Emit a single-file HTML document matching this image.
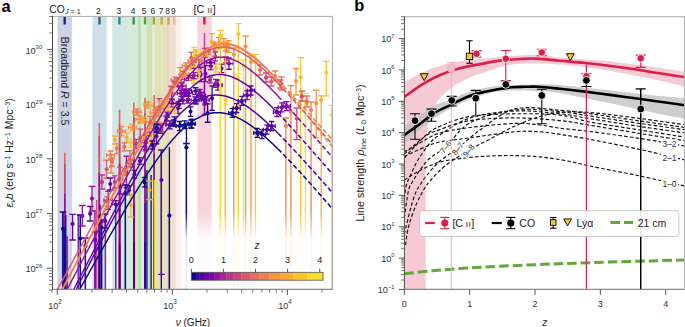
<!DOCTYPE html><html><head><meta charset="utf-8"><style>html,body{margin:0;padding:0;background:#fff;}svg{display:block;font-family:"Liberation Sans",sans-serif;}</style></head><body><svg width="685" height="327" viewBox="0 0 685 327" font-family="Liberation Sans, sans-serif"><defs><clipPath id="clipA"><rect x="52.5" y="16.4" width="280.1" height="273.0"/></clipPath><clipPath id="clipB"><rect x="404.4" y="16.7" width="280.0" height="272.7"/></clipPath></defs><rect width="685" height="327" fill="#fff"/><g clip-path="url(#clipA)">
<rect x="57.5" y="16.4" width="14.4" height="273" fill="#1b2a7e" fill-opacity="0.21"/>
<rect x="92.3" y="16.4" width="14.4" height="273" fill="#2a6a8c" fill-opacity="0.21"/>
<rect x="112.2" y="16.4" width="14.4" height="273" fill="#2f8a80" fill-opacity="0.21"/>
<rect x="126.5" y="16.4" width="14.4" height="273" fill="#3a9a55" fill-opacity="0.21"/>
<rect x="137.8" y="16.4" width="14.4" height="273" fill="#55a843" fill-opacity="0.21"/>
<rect x="146.6" y="16.4" width="14.4" height="273" fill="#8db33c" fill-opacity="0.21"/>
<rect x="154.5" y="16.4" width="14.4" height="273" fill="#b7b64c" fill-opacity="0.21"/>
<rect x="161.3" y="16.4" width="14.4" height="273" fill="#c9a262" fill-opacity="0.21"/>
<rect x="167" y="16.4" width="14.4" height="273" fill="#e3b4a4" fill-opacity="0.21"/>
<rect x="197.3" y="16.4" width="14.4" height="273" fill="#e8738f" fill-opacity="0.3"/>
<line x1="64.7" y1="17" x2="64.7" y2="24.6" stroke="#1b2a7e" stroke-width="2.4" />
<line x1="99.5" y1="17" x2="99.5" y2="24.6" stroke="#2a6a8c" stroke-width="2.4" />
<line x1="119.4" y1="17" x2="119.4" y2="24.6" stroke="#2f8a80" stroke-width="2.4" />
<line x1="133.7" y1="17" x2="133.7" y2="24.6" stroke="#3a9a55" stroke-width="2.4" />
<line x1="145" y1="17" x2="145" y2="24.6" stroke="#55a843" stroke-width="2.4" />
<line x1="153.8" y1="17" x2="153.8" y2="24.6" stroke="#8db33c" stroke-width="2.4" />
<line x1="161.7" y1="17" x2="161.7" y2="24.6" stroke="#b7b64c" stroke-width="2.4" />
<line x1="168.5" y1="17" x2="168.5" y2="24.6" stroke="#c9a262" stroke-width="2.4" />
<line x1="174.2" y1="17" x2="174.2" y2="24.6" stroke="#e3b4a4" stroke-width="2.4" />
<line x1="204.4" y1="17" x2="204.4" y2="24.6" stroke="#e0103a" stroke-width="2.4" />
<line x1="64.8" y1="152.8" x2="64.8" y2="289.4" stroke="#e6645f" stroke-width="1.6" />
<line x1="64.8" y1="163.73" x2="64.8" y2="289.4" stroke="#cc4778" stroke-width="1.6" />
<line x1="64.8" y1="193.78" x2="64.8" y2="289.4" stroke="#9511a1" stroke-width="1.6" />
<line x1="64.8" y1="227.93" x2="64.8" y2="289.4" stroke="#6600a7" stroke-width="1.6" />
<line x1="64.8" y1="255.25" x2="64.8" y2="289.4" stroke="#310597" stroke-width="1.6" />
<line x1="99.3" y1="123" x2="99.3" y2="289.4" stroke="#e6645f" stroke-width="1.6" />
<line x1="99.3" y1="136.31" x2="99.3" y2="289.4" stroke="#cc4778" stroke-width="1.6" />
<line x1="99.3" y1="172.92" x2="99.3" y2="289.4" stroke="#9511a1" stroke-width="1.6" />
<line x1="99.3" y1="214.52" x2="99.3" y2="289.4" stroke="#6600a7" stroke-width="1.6" />
<line x1="99.3" y1="247.8" x2="99.3" y2="289.4" stroke="#310597" stroke-width="1.6" />
<line x1="119.6" y1="109.8" x2="119.6" y2="289.4" stroke="#e6645f" stroke-width="1.6" />
<line x1="119.6" y1="124.17" x2="119.6" y2="289.4" stroke="#cc4778" stroke-width="1.6" />
<line x1="119.6" y1="163.68" x2="119.6" y2="289.4" stroke="#9511a1" stroke-width="1.6" />
<line x1="119.6" y1="208.58" x2="119.6" y2="289.4" stroke="#6600a7" stroke-width="1.6" />
<line x1="119.6" y1="244.5" x2="119.6" y2="289.4" stroke="#310597" stroke-width="1.6" />
<line x1="133.9" y1="102.5" x2="133.9" y2="289.4" stroke="#e6645f" stroke-width="1.6" />
<line x1="133.9" y1="117.45" x2="133.9" y2="289.4" stroke="#cc4778" stroke-width="1.6" />
<line x1="133.9" y1="158.57" x2="133.9" y2="289.4" stroke="#9511a1" stroke-width="1.6" />
<line x1="133.9" y1="205.3" x2="133.9" y2="289.4" stroke="#6600a7" stroke-width="1.6" />
<line x1="133.9" y1="242.67" x2="133.9" y2="289.4" stroke="#310597" stroke-width="1.6" />
<line x1="145" y1="97.7" x2="145" y2="289.4" stroke="#e6645f" stroke-width="1.6" />
<line x1="145" y1="113.04" x2="145" y2="289.4" stroke="#cc4778" stroke-width="1.6" />
<line x1="145" y1="155.21" x2="145" y2="289.4" stroke="#9511a1" stroke-width="1.6" />
<line x1="145" y1="203.13" x2="145" y2="289.4" stroke="#6600a7" stroke-width="1.6" />
<line x1="145" y1="241.47" x2="145" y2="289.4" stroke="#310597" stroke-width="1.6" />
<line x1="154.1" y1="95.1" x2="154.1" y2="289.4" stroke="#e6645f" stroke-width="1.6" />
<line x1="154.1" y1="110.64" x2="154.1" y2="289.4" stroke="#cc4778" stroke-width="1.6" />
<line x1="154.1" y1="153.39" x2="154.1" y2="289.4" stroke="#9511a1" stroke-width="1.6" />
<line x1="154.1" y1="201.96" x2="154.1" y2="289.4" stroke="#6600a7" stroke-width="1.6" />
<line x1="154.1" y1="240.82" x2="154.1" y2="289.4" stroke="#310597" stroke-width="1.6" />
<line x1="204.5" y1="33" x2="204.5" y2="114.3" stroke="#bc3587" stroke-width="1.3" />
<line x1="204.5" y1="55" x2="204.5" y2="114.3" stroke="#7e03a8" stroke-width="1.3" />
<line x1="201.5" y1="114.3" x2="207.5" y2="114.3" stroke="#7e03a8" stroke-width="1.1" />
<line x1="144.53" y1="177.46" x2="144.53" y2="186.9" stroke="#0d0887" stroke-width="1.3" />
<line x1="141.73" y1="177.46" x2="147.33" y2="177.46" stroke="#0d0887" stroke-width="1.3" />
<line x1="141.73" y1="186.9" x2="147.33" y2="186.9" stroke="#0d0887" stroke-width="1.3" />
<circle cx="144.53" cy="182.18" r="2" fill="#0d0887" />
<line x1="184.81" y1="120.79" x2="184.81" y2="128.49" stroke="#0d0887" stroke-width="1.3" />
<line x1="182.01" y1="120.79" x2="187.61" y2="120.79" stroke="#0d0887" stroke-width="1.3" />
<line x1="182.01" y1="128.49" x2="187.61" y2="128.49" stroke="#0d0887" stroke-width="1.3" />
<line x1="180.61" y1="124.64" x2="189.01" y2="124.64" stroke="#0d0887" stroke-width="1.3" />
<line x1="180.61" y1="122.64" x2="180.61" y2="126.64" stroke="#0d0887" stroke-width="1.3" />
<line x1="189.01" y1="122.64" x2="189.01" y2="126.64" stroke="#0d0887" stroke-width="1.3" />
<circle cx="184.81" cy="124.64" r="2" fill="#0d0887" />
<line x1="207.61" y1="103.83" x2="207.61" y2="122.27" stroke="#0d0887" stroke-width="1.3" />
<line x1="204.81" y1="103.83" x2="210.41" y2="103.83" stroke="#0d0887" stroke-width="1.3" />
<line x1="204.81" y1="122.27" x2="210.41" y2="122.27" stroke="#0d0887" stroke-width="1.3" />
<circle cx="207.61" cy="113.05" r="2" fill="#0d0887" />
<line x1="129.03" y1="185.76" x2="129.03" y2="194.85" stroke="#310597" stroke-width="1.3" />
<line x1="126.23" y1="185.76" x2="131.83" y2="185.76" stroke="#310597" stroke-width="1.3" />
<line x1="126.23" y1="194.85" x2="131.83" y2="194.85" stroke="#310597" stroke-width="1.3" />
<circle cx="129.03" cy="190.3" r="2" fill="#310597" />
<line x1="173.74" y1="119.93" x2="173.74" y2="126.34" stroke="#310597" stroke-width="1.3" />
<line x1="170.94" y1="119.93" x2="176.54" y2="119.93" stroke="#310597" stroke-width="1.3" />
<line x1="170.94" y1="126.34" x2="176.54" y2="126.34" stroke="#310597" stroke-width="1.3" />
<circle cx="173.74" cy="123.14" r="2" fill="#310597" />
<line x1="190.56" y1="106.86" x2="190.56" y2="116.38" stroke="#310597" stroke-width="1.3" />
<line x1="187.76" y1="106.86" x2="193.36" y2="106.86" stroke="#310597" stroke-width="1.3" />
<line x1="187.76" y1="116.38" x2="193.36" y2="116.38" stroke="#310597" stroke-width="1.3" />
<circle cx="190.56" cy="111.62" r="2" fill="#310597" />
<line x1="212.09" y1="85.92" x2="212.09" y2="110.34" stroke="#310597" stroke-width="1.3" />
<line x1="209.29" y1="85.92" x2="214.89" y2="85.92" stroke="#310597" stroke-width="1.3" />
<line x1="209.29" y1="110.34" x2="214.89" y2="110.34" stroke="#310597" stroke-width="1.3" />
<circle cx="212.09" cy="98.13" r="2" fill="#310597" />
<line x1="134.41" y1="170.35" x2="134.41" y2="178.08" stroke="#4c02a1" stroke-width="1.3" />
<line x1="131.61" y1="170.35" x2="137.21" y2="170.35" stroke="#4c02a1" stroke-width="1.3" />
<line x1="131.61" y1="178.08" x2="137.21" y2="178.08" stroke="#4c02a1" stroke-width="1.3" />
<circle cx="134.41" cy="174.22" r="2" fill="#4c02a1" />
<line x1="156.47" y1="128.86" x2="156.47" y2="143.73" stroke="#4c02a1" stroke-width="1.3" />
<line x1="153.67" y1="128.86" x2="159.27" y2="128.86" stroke="#4c02a1" stroke-width="1.3" />
<line x1="153.67" y1="143.73" x2="159.27" y2="143.73" stroke="#4c02a1" stroke-width="1.3" />
<circle cx="156.47" cy="136.3" r="2" fill="#4c02a1" />
<line x1="177.99" y1="103.31" x2="177.99" y2="113.4" stroke="#4c02a1" stroke-width="1.3" />
<line x1="175.19" y1="103.31" x2="180.79" y2="103.31" stroke="#4c02a1" stroke-width="1.3" />
<line x1="175.19" y1="113.4" x2="180.79" y2="113.4" stroke="#4c02a1" stroke-width="1.3" />
<circle cx="177.99" cy="108.35" r="2" fill="#4c02a1" />
<line x1="195.63" y1="87.74" x2="195.63" y2="94.36" stroke="#4c02a1" stroke-width="1.3" />
<line x1="192.83" y1="87.74" x2="198.43" y2="87.74" stroke="#4c02a1" stroke-width="1.3" />
<line x1="192.83" y1="94.36" x2="198.43" y2="94.36" stroke="#4c02a1" stroke-width="1.3" />
<line x1="191.43" y1="91.05" x2="199.83" y2="91.05" stroke="#4c02a1" stroke-width="1.3" />
<line x1="191.43" y1="89.05" x2="191.43" y2="93.05" stroke="#4c02a1" stroke-width="1.3" />
<line x1="199.83" y1="89.05" x2="199.83" y2="93.05" stroke="#4c02a1" stroke-width="1.3" />
<circle cx="195.63" cy="91.05" r="2" fill="#4c02a1" />
<line x1="217.99" y1="80.01" x2="217.99" y2="90.15" stroke="#4c02a1" stroke-width="1.3" />
<line x1="215.19" y1="80.01" x2="220.79" y2="80.01" stroke="#4c02a1" stroke-width="1.3" />
<line x1="215.19" y1="90.15" x2="220.79" y2="90.15" stroke="#4c02a1" stroke-width="1.3" />
<line x1="213.79" y1="85.08" x2="222.19" y2="85.08" stroke="#4c02a1" stroke-width="1.3" />
<line x1="213.79" y1="83.08" x2="213.79" y2="87.08" stroke="#4c02a1" stroke-width="1.3" />
<line x1="222.19" y1="83.08" x2="222.19" y2="87.08" stroke="#4c02a1" stroke-width="1.3" />
<circle cx="217.99" cy="85.08" r="2" fill="#4c02a1" />
<line x1="115.73" y1="200.69" x2="115.73" y2="294.4" stroke="#6600a7" stroke-width="1.3" />
<line x1="112.93" y1="200.69" x2="118.53" y2="200.69" stroke="#6600a7" stroke-width="1.3" />
<line x1="111.53" y1="204.4" x2="119.93" y2="204.4" stroke="#6600a7" stroke-width="1.3" />
<line x1="111.53" y1="202.4" x2="111.53" y2="206.4" stroke="#6600a7" stroke-width="1.3" />
<line x1="119.93" y1="202.4" x2="119.93" y2="206.4" stroke="#6600a7" stroke-width="1.3" />
<circle cx="115.73" cy="204.4" r="2" fill="#6600a7" />
<line x1="139.86" y1="157.7" x2="139.86" y2="164.05" stroke="#6600a7" stroke-width="1.3" />
<line x1="137.06" y1="157.7" x2="142.66" y2="157.7" stroke="#6600a7" stroke-width="1.3" />
<line x1="137.06" y1="164.05" x2="142.66" y2="164.05" stroke="#6600a7" stroke-width="1.3" />
<circle cx="139.86" cy="160.88" r="2" fill="#6600a7" />
<line x1="184.43" y1="89.32" x2="184.43" y2="96.18" stroke="#6600a7" stroke-width="1.3" />
<line x1="181.63" y1="89.32" x2="187.23" y2="89.32" stroke="#6600a7" stroke-width="1.3" />
<line x1="181.63" y1="96.18" x2="187.23" y2="96.18" stroke="#6600a7" stroke-width="1.3" />
<line x1="180.23" y1="92.75" x2="188.63" y2="92.75" stroke="#6600a7" stroke-width="1.3" />
<line x1="180.23" y1="90.75" x2="180.23" y2="94.75" stroke="#6600a7" stroke-width="1.3" />
<line x1="188.63" y1="90.75" x2="188.63" y2="94.75" stroke="#6600a7" stroke-width="1.3" />
<circle cx="184.43" cy="92.75" r="2" fill="#6600a7" />
<line x1="200.76" y1="67.46" x2="200.76" y2="81.65" stroke="#6600a7" stroke-width="1.3" />
<line x1="197.96" y1="67.46" x2="203.56" y2="67.46" stroke="#6600a7" stroke-width="1.3" />
<line x1="197.96" y1="81.65" x2="203.56" y2="81.65" stroke="#6600a7" stroke-width="1.3" />
<circle cx="200.76" cy="74.56" r="2" fill="#6600a7" />
<line x1="221.52" y1="64.18" x2="221.52" y2="72.57" stroke="#6600a7" stroke-width="1.3" />
<line x1="218.72" y1="64.18" x2="224.32" y2="64.18" stroke="#6600a7" stroke-width="1.3" />
<line x1="218.72" y1="72.57" x2="224.32" y2="72.57" stroke="#6600a7" stroke-width="1.3" />
<circle cx="221.52" cy="68.38" r="2" fill="#6600a7" />
<line x1="120.64" y1="179.44" x2="120.64" y2="194" stroke="#7e03a8" stroke-width="1.3" />
<line x1="117.84" y1="179.44" x2="123.44" y2="179.44" stroke="#7e03a8" stroke-width="1.3" />
<line x1="117.84" y1="194" x2="123.44" y2="194" stroke="#7e03a8" stroke-width="1.3" />
<circle cx="120.64" cy="186.72" r="2" fill="#7e03a8" />
<line x1="146.03" y1="135.6" x2="146.03" y2="149.61" stroke="#7e03a8" stroke-width="1.3" />
<line x1="143.23" y1="135.6" x2="148.83" y2="135.6" stroke="#7e03a8" stroke-width="1.3" />
<line x1="143.23" y1="149.61" x2="148.83" y2="149.61" stroke="#7e03a8" stroke-width="1.3" />
<circle cx="146.03" cy="142.61" r="2" fill="#7e03a8" />
<line x1="167.14" y1="112.15" x2="167.14" y2="117.38" stroke="#7e03a8" stroke-width="1.3" />
<line x1="164.34" y1="112.15" x2="169.94" y2="112.15" stroke="#7e03a8" stroke-width="1.3" />
<line x1="164.34" y1="117.38" x2="169.94" y2="117.38" stroke="#7e03a8" stroke-width="1.3" />
<circle cx="167.14" cy="114.76" r="2" fill="#7e03a8" />
<line x1="188.82" y1="75.11" x2="188.82" y2="80.32" stroke="#7e03a8" stroke-width="1.3" />
<line x1="186.02" y1="75.11" x2="191.62" y2="75.11" stroke="#7e03a8" stroke-width="1.3" />
<line x1="186.02" y1="80.32" x2="191.62" y2="80.32" stroke="#7e03a8" stroke-width="1.3" />
<line x1="184.62" y1="77.72" x2="193.02" y2="77.72" stroke="#7e03a8" stroke-width="1.3" />
<line x1="184.62" y1="75.72" x2="184.62" y2="79.72" stroke="#7e03a8" stroke-width="1.3" />
<line x1="193.02" y1="75.72" x2="193.02" y2="79.72" stroke="#7e03a8" stroke-width="1.3" />
<circle cx="188.82" cy="77.72" r="2" fill="#7e03a8" />
<line x1="205.53" y1="65.58" x2="205.53" y2="81.69" stroke="#7e03a8" stroke-width="1.3" />
<line x1="202.73" y1="65.58" x2="208.33" y2="65.58" stroke="#7e03a8" stroke-width="1.3" />
<line x1="202.73" y1="81.69" x2="208.33" y2="81.69" stroke="#7e03a8" stroke-width="1.3" />
<circle cx="205.53" cy="73.64" r="2" fill="#7e03a8" />
<line x1="228.96" y1="57.95" x2="228.96" y2="69.25" stroke="#7e03a8" stroke-width="1.3" />
<line x1="226.16" y1="57.95" x2="231.76" y2="57.95" stroke="#7e03a8" stroke-width="1.3" />
<line x1="226.16" y1="69.25" x2="231.76" y2="69.25" stroke="#7e03a8" stroke-width="1.3" />
<line x1="224.76" y1="63.6" x2="233.16" y2="63.6" stroke="#7e03a8" stroke-width="1.3" />
<line x1="224.76" y1="61.6" x2="224.76" y2="65.6" stroke="#7e03a8" stroke-width="1.3" />
<line x1="233.16" y1="61.6" x2="233.16" y2="65.6" stroke="#7e03a8" stroke-width="1.3" />
<circle cx="228.96" cy="63.6" r="2" fill="#7e03a8" />
<line x1="126.41" y1="156.25" x2="126.41" y2="187.6" stroke="#9511a1" stroke-width="1.3" />
<line x1="123.61" y1="156.25" x2="129.21" y2="156.25" stroke="#9511a1" stroke-width="1.3" />
<line x1="123.61" y1="187.6" x2="129.21" y2="187.6" stroke="#9511a1" stroke-width="1.3" />
<circle cx="126.41" cy="171.93" r="2" fill="#9511a1" />
<line x1="149.55" y1="132.16" x2="149.55" y2="139.16" stroke="#9511a1" stroke-width="1.3" />
<line x1="146.75" y1="132.16" x2="152.35" y2="132.16" stroke="#9511a1" stroke-width="1.3" />
<line x1="146.75" y1="139.16" x2="152.35" y2="139.16" stroke="#9511a1" stroke-width="1.3" />
<circle cx="149.55" cy="135.66" r="2" fill="#9511a1" />
<line x1="171.61" y1="86.54" x2="171.61" y2="98.97" stroke="#9511a1" stroke-width="1.3" />
<line x1="168.81" y1="86.54" x2="174.41" y2="86.54" stroke="#9511a1" stroke-width="1.3" />
<line x1="168.81" y1="98.97" x2="174.41" y2="98.97" stroke="#9511a1" stroke-width="1.3" />
<circle cx="171.61" cy="92.76" r="2" fill="#9511a1" />
<line x1="193.43" y1="62.7" x2="193.43" y2="68.27" stroke="#9511a1" stroke-width="1.3" />
<line x1="190.63" y1="62.7" x2="196.23" y2="62.7" stroke="#9511a1" stroke-width="1.3" />
<line x1="190.63" y1="68.27" x2="196.23" y2="68.27" stroke="#9511a1" stroke-width="1.3" />
<circle cx="193.43" cy="65.49" r="2" fill="#9511a1" />
<line x1="210.85" y1="62.72" x2="210.85" y2="69.66" stroke="#9511a1" stroke-width="1.3" />
<line x1="208.05" y1="62.72" x2="213.65" y2="62.72" stroke="#9511a1" stroke-width="1.3" />
<line x1="208.05" y1="69.66" x2="213.65" y2="69.66" stroke="#9511a1" stroke-width="1.3" />
<circle cx="210.85" cy="66.19" r="2" fill="#9511a1" />
<line x1="108.14" y1="191.23" x2="108.14" y2="209.55" stroke="#aa2395" stroke-width="1.3" />
<line x1="105.34" y1="191.23" x2="110.94" y2="191.23" stroke="#aa2395" stroke-width="1.3" />
<line x1="105.34" y1="209.55" x2="110.94" y2="209.55" stroke="#aa2395" stroke-width="1.3" />
<line x1="103.94" y1="200.39" x2="112.34" y2="200.39" stroke="#aa2395" stroke-width="1.3" />
<line x1="103.94" y1="198.39" x2="103.94" y2="202.39" stroke="#aa2395" stroke-width="1.3" />
<line x1="112.34" y1="198.39" x2="112.34" y2="202.39" stroke="#aa2395" stroke-width="1.3" />
<circle cx="108.14" cy="200.39" r="2" fill="#aa2395" />
<line x1="130.32" y1="160.23" x2="130.32" y2="167.04" stroke="#aa2395" stroke-width="1.3" />
<line x1="127.52" y1="160.23" x2="133.12" y2="160.23" stroke="#aa2395" stroke-width="1.3" />
<line x1="127.52" y1="167.04" x2="133.12" y2="167.04" stroke="#aa2395" stroke-width="1.3" />
<line x1="126.12" y1="163.64" x2="134.52" y2="163.64" stroke="#aa2395" stroke-width="1.3" />
<line x1="126.12" y1="161.64" x2="126.12" y2="165.64" stroke="#aa2395" stroke-width="1.3" />
<line x1="134.52" y1="161.64" x2="134.52" y2="165.64" stroke="#aa2395" stroke-width="1.3" />
<circle cx="130.32" cy="163.64" r="2" fill="#aa2395" />
<line x1="154.51" y1="122.12" x2="154.51" y2="129.9" stroke="#aa2395" stroke-width="1.3" />
<line x1="151.71" y1="122.12" x2="157.31" y2="122.12" stroke="#aa2395" stroke-width="1.3" />
<line x1="151.71" y1="129.9" x2="157.31" y2="129.9" stroke="#aa2395" stroke-width="1.3" />
<circle cx="154.51" cy="126.01" r="2" fill="#aa2395" />
<line x1="177.08" y1="77.65" x2="177.08" y2="86.62" stroke="#aa2395" stroke-width="1.3" />
<line x1="174.28" y1="77.65" x2="179.88" y2="77.65" stroke="#aa2395" stroke-width="1.3" />
<line x1="174.28" y1="86.62" x2="179.88" y2="86.62" stroke="#aa2395" stroke-width="1.3" />
<line x1="172.88" y1="82.13" x2="181.28" y2="82.13" stroke="#aa2395" stroke-width="1.3" />
<line x1="172.88" y1="80.13" x2="172.88" y2="84.13" stroke="#aa2395" stroke-width="1.3" />
<line x1="181.28" y1="80.13" x2="181.28" y2="84.13" stroke="#aa2395" stroke-width="1.3" />
<circle cx="177.08" cy="82.13" r="2" fill="#aa2395" />
<line x1="199.08" y1="59.48" x2="199.08" y2="72.3" stroke="#aa2395" stroke-width="1.3" />
<line x1="196.28" y1="59.48" x2="201.88" y2="59.48" stroke="#aa2395" stroke-width="1.3" />
<line x1="196.28" y1="72.3" x2="201.88" y2="72.3" stroke="#aa2395" stroke-width="1.3" />
<circle cx="199.08" cy="65.89" r="2" fill="#aa2395" />
<line x1="215.34" y1="52.02" x2="215.34" y2="60.87" stroke="#aa2395" stroke-width="1.3" />
<line x1="212.54" y1="52.02" x2="218.14" y2="52.02" stroke="#aa2395" stroke-width="1.3" />
<line x1="212.54" y1="60.87" x2="218.14" y2="60.87" stroke="#aa2395" stroke-width="1.3" />
<circle cx="215.34" cy="56.45" r="2" fill="#aa2395" />
<line x1="114.72" y1="175.78" x2="114.72" y2="188.38" stroke="#bc3587" stroke-width="1.3" />
<line x1="111.92" y1="175.78" x2="117.52" y2="175.78" stroke="#bc3587" stroke-width="1.3" />
<line x1="111.92" y1="188.38" x2="117.52" y2="188.38" stroke="#bc3587" stroke-width="1.3" />
<circle cx="114.72" cy="182.08" r="2" fill="#bc3587" />
<line x1="136.08" y1="139.32" x2="136.08" y2="148.29" stroke="#bc3587" stroke-width="1.3" />
<line x1="133.28" y1="139.32" x2="138.88" y2="139.32" stroke="#bc3587" stroke-width="1.3" />
<line x1="133.28" y1="148.29" x2="138.88" y2="148.29" stroke="#bc3587" stroke-width="1.3" />
<circle cx="136.08" cy="143.8" r="2" fill="#bc3587" />
<line x1="159.45" y1="98.62" x2="159.45" y2="115.74" stroke="#bc3587" stroke-width="1.3" />
<line x1="156.65" y1="98.62" x2="162.25" y2="98.62" stroke="#bc3587" stroke-width="1.3" />
<line x1="156.65" y1="115.74" x2="162.25" y2="115.74" stroke="#bc3587" stroke-width="1.3" />
<circle cx="159.45" cy="107.18" r="2" fill="#bc3587" />
<line x1="182.78" y1="71.5" x2="182.78" y2="79.31" stroke="#bc3587" stroke-width="1.3" />
<line x1="179.98" y1="71.5" x2="185.58" y2="71.5" stroke="#bc3587" stroke-width="1.3" />
<line x1="179.98" y1="79.31" x2="185.58" y2="79.31" stroke="#bc3587" stroke-width="1.3" />
<circle cx="182.78" cy="75.41" r="2" fill="#bc3587" />
<line x1="204.71" y1="48.34" x2="204.71" y2="57.47" stroke="#bc3587" stroke-width="1.3" />
<line x1="201.91" y1="48.34" x2="207.51" y2="48.34" stroke="#bc3587" stroke-width="1.3" />
<line x1="201.91" y1="57.47" x2="207.51" y2="57.47" stroke="#bc3587" stroke-width="1.3" />
<circle cx="204.71" cy="52.91" r="2" fill="#bc3587" />
<line x1="119.89" y1="167.09" x2="119.89" y2="180.7" stroke="#cc4778" stroke-width="1.3" />
<line x1="117.09" y1="167.09" x2="122.69" y2="167.09" stroke="#cc4778" stroke-width="1.3" />
<line x1="117.09" y1="180.7" x2="122.69" y2="180.7" stroke="#cc4778" stroke-width="1.3" />
<circle cx="119.89" cy="173.89" r="2" fill="#cc4778" />
<line x1="140.41" y1="129.19" x2="140.41" y2="146.55" stroke="#cc4778" stroke-width="1.3" />
<line x1="137.61" y1="129.19" x2="143.21" y2="129.19" stroke="#cc4778" stroke-width="1.3" />
<line x1="137.61" y1="146.55" x2="143.21" y2="146.55" stroke="#cc4778" stroke-width="1.3" />
<circle cx="140.41" cy="137.87" r="2" fill="#cc4778" />
<line x1="208.63" y1="48.2" x2="208.63" y2="54.08" stroke="#cc4778" stroke-width="1.3" />
<line x1="205.83" y1="48.2" x2="211.43" y2="48.2" stroke="#cc4778" stroke-width="1.3" />
<line x1="205.83" y1="54.08" x2="211.43" y2="54.08" stroke="#cc4778" stroke-width="1.3" />
<circle cx="208.63" cy="51.14" r="2" fill="#cc4778" />
<line x1="225.98" y1="45" x2="225.98" y2="51.15" stroke="#cc4778" stroke-width="1.3" />
<line x1="223.18" y1="45" x2="228.78" y2="45" stroke="#cc4778" stroke-width="1.3" />
<line x1="223.18" y1="51.15" x2="228.78" y2="51.15" stroke="#cc4778" stroke-width="1.3" />
<circle cx="225.98" cy="48.08" r="2" fill="#cc4778" />
<line x1="107.13" y1="196.81" x2="107.13" y2="206.05" stroke="#da5a6a" stroke-width="1.3" />
<line x1="104.33" y1="196.81" x2="109.93" y2="196.81" stroke="#da5a6a" stroke-width="1.3" />
<line x1="104.33" y1="206.05" x2="109.93" y2="206.05" stroke="#da5a6a" stroke-width="1.3" />
<circle cx="107.13" cy="201.43" r="2" fill="#da5a6a" />
<line x1="125.1" y1="168.75" x2="125.1" y2="174.75" stroke="#da5a6a" stroke-width="1.3" />
<line x1="122.3" y1="168.75" x2="127.9" y2="168.75" stroke="#da5a6a" stroke-width="1.3" />
<line x1="122.3" y1="174.75" x2="127.9" y2="174.75" stroke="#da5a6a" stroke-width="1.3" />
<circle cx="125.1" cy="171.75" r="2" fill="#da5a6a" />
<line x1="170.82" y1="86.09" x2="170.82" y2="94.17" stroke="#da5a6a" stroke-width="1.3" />
<line x1="168.02" y1="86.09" x2="173.62" y2="86.09" stroke="#da5a6a" stroke-width="1.3" />
<line x1="168.02" y1="94.17" x2="173.62" y2="94.17" stroke="#da5a6a" stroke-width="1.3" />
<circle cx="170.82" cy="90.13" r="2" fill="#da5a6a" />
<line x1="191.27" y1="52.4" x2="191.27" y2="63.12" stroke="#da5a6a" stroke-width="1.3" />
<line x1="188.47" y1="52.4" x2="194.07" y2="52.4" stroke="#da5a6a" stroke-width="1.3" />
<line x1="188.47" y1="63.12" x2="194.07" y2="63.12" stroke="#da5a6a" stroke-width="1.3" />
<circle cx="191.27" cy="57.76" r="2" fill="#da5a6a" />
<line x1="214.37" y1="43.48" x2="214.37" y2="56.11" stroke="#da5a6a" stroke-width="1.3" />
<line x1="211.57" y1="43.48" x2="217.17" y2="43.48" stroke="#da5a6a" stroke-width="1.3" />
<line x1="211.57" y1="56.11" x2="217.17" y2="56.11" stroke="#da5a6a" stroke-width="1.3" />
<circle cx="214.37" cy="49.8" r="2" fill="#da5a6a" />
<line x1="129.93" y1="150.55" x2="129.93" y2="167.37" stroke="#e66c5c" stroke-width="1.3" />
<line x1="127.13" y1="150.55" x2="132.73" y2="150.55" stroke="#e66c5c" stroke-width="1.3" />
<line x1="127.13" y1="167.37" x2="132.73" y2="167.37" stroke="#e66c5c" stroke-width="1.3" />
<circle cx="129.93" cy="158.96" r="2" fill="#e66c5c" />
<line x1="150.15" y1="116.41" x2="150.15" y2="128.38" stroke="#e66c5c" stroke-width="1.3" />
<line x1="147.35" y1="116.41" x2="152.95" y2="116.41" stroke="#e66c5c" stroke-width="1.3" />
<line x1="147.35" y1="128.38" x2="152.95" y2="128.38" stroke="#e66c5c" stroke-width="1.3" />
<line x1="145.95" y1="122.39" x2="154.35" y2="122.39" stroke="#e66c5c" stroke-width="1.3" />
<line x1="145.95" y1="120.39" x2="145.95" y2="124.39" stroke="#e66c5c" stroke-width="1.3" />
<line x1="154.35" y1="120.39" x2="154.35" y2="124.39" stroke="#e66c5c" stroke-width="1.3" />
<circle cx="150.15" cy="122.39" r="2" fill="#e66c5c" />
<line x1="175.29" y1="77.04" x2="175.29" y2="83.11" stroke="#e66c5c" stroke-width="1.3" />
<line x1="172.49" y1="77.04" x2="178.09" y2="77.04" stroke="#e66c5c" stroke-width="1.3" />
<line x1="172.49" y1="83.11" x2="178.09" y2="83.11" stroke="#e66c5c" stroke-width="1.3" />
<line x1="171.09" y1="80.07" x2="179.49" y2="80.07" stroke="#e66c5c" stroke-width="1.3" />
<line x1="171.09" y1="78.07" x2="171.09" y2="82.07" stroke="#e66c5c" stroke-width="1.3" />
<line x1="179.49" y1="78.07" x2="179.49" y2="82.07" stroke="#e66c5c" stroke-width="1.3" />
<circle cx="175.29" cy="80.07" r="2" fill="#e66c5c" />
<line x1="196.13" y1="49.73" x2="196.13" y2="59.64" stroke="#e66c5c" stroke-width="1.3" />
<line x1="193.33" y1="49.73" x2="198.93" y2="49.73" stroke="#e66c5c" stroke-width="1.3" />
<line x1="193.33" y1="59.64" x2="198.93" y2="59.64" stroke="#e66c5c" stroke-width="1.3" />
<circle cx="196.13" cy="54.68" r="2" fill="#e66c5c" />
<line x1="218.99" y1="37.63" x2="218.99" y2="48.28" stroke="#e66c5c" stroke-width="1.3" />
<line x1="216.19" y1="37.63" x2="221.79" y2="37.63" stroke="#e66c5c" stroke-width="1.3" />
<line x1="216.19" y1="48.28" x2="221.79" y2="48.28" stroke="#e66c5c" stroke-width="1.3" />
<line x1="214.79" y1="42.96" x2="223.19" y2="42.96" stroke="#e66c5c" stroke-width="1.3" />
<line x1="214.79" y1="40.96" x2="214.79" y2="44.96" stroke="#e66c5c" stroke-width="1.3" />
<line x1="223.19" y1="40.96" x2="223.19" y2="44.96" stroke="#e66c5c" stroke-width="1.3" />
<circle cx="218.99" cy="42.96" r="2" fill="#e66c5c" />
<line x1="155.06" y1="106.97" x2="155.06" y2="121.8" stroke="#f0804e" stroke-width="1.3" />
<line x1="152.26" y1="106.97" x2="157.86" y2="106.97" stroke="#f0804e" stroke-width="1.3" />
<line x1="152.26" y1="121.8" x2="157.86" y2="121.8" stroke="#f0804e" stroke-width="1.3" />
<circle cx="155.06" cy="114.38" r="2" fill="#f0804e" />
<line x1="180.07" y1="67.55" x2="180.07" y2="82.04" stroke="#f0804e" stroke-width="1.3" />
<line x1="177.27" y1="67.55" x2="182.87" y2="67.55" stroke="#f0804e" stroke-width="1.3" />
<line x1="177.27" y1="82.04" x2="182.87" y2="82.04" stroke="#f0804e" stroke-width="1.3" />
<circle cx="180.07" cy="74.8" r="2" fill="#f0804e" />
<line x1="201.2" y1="55.43" x2="201.2" y2="65.76" stroke="#f0804e" stroke-width="1.3" />
<line x1="198.4" y1="55.43" x2="204" y2="55.43" stroke="#f0804e" stroke-width="1.3" />
<line x1="198.4" y1="65.76" x2="204" y2="65.76" stroke="#f0804e" stroke-width="1.3" />
<circle cx="201.2" cy="60.6" r="2" fill="#f0804e" />
<line x1="223.88" y1="38.66" x2="223.88" y2="46.83" stroke="#f0804e" stroke-width="1.3" />
<line x1="221.08" y1="38.66" x2="226.68" y2="38.66" stroke="#f0804e" stroke-width="1.3" />
<line x1="221.08" y1="46.83" x2="226.68" y2="46.83" stroke="#f0804e" stroke-width="1.3" />
<line x1="219.68" y1="42.74" x2="228.08" y2="42.74" stroke="#f0804e" stroke-width="1.3" />
<line x1="219.68" y1="40.74" x2="219.68" y2="44.74" stroke="#f0804e" stroke-width="1.3" />
<line x1="228.08" y1="40.74" x2="228.08" y2="44.74" stroke="#f0804e" stroke-width="1.3" />
<circle cx="223.88" cy="42.74" r="2" fill="#f0804e" />
<line x1="159.4" y1="101.08" x2="159.4" y2="122.12" stroke="#f89540" stroke-width="1.3" />
<line x1="156.6" y1="101.08" x2="162.2" y2="101.08" stroke="#f89540" stroke-width="1.3" />
<line x1="156.6" y1="122.12" x2="162.2" y2="122.12" stroke="#f89540" stroke-width="1.3" />
<circle cx="159.4" cy="111.6" r="2" fill="#f89540" />
<line x1="184.52" y1="70.52" x2="184.52" y2="77.09" stroke="#f89540" stroke-width="1.3" />
<line x1="181.72" y1="70.52" x2="187.32" y2="70.52" stroke="#f89540" stroke-width="1.3" />
<line x1="181.72" y1="77.09" x2="187.32" y2="77.09" stroke="#f89540" stroke-width="1.3" />
<line x1="180.32" y1="73.81" x2="188.72" y2="73.81" stroke="#f89540" stroke-width="1.3" />
<line x1="180.32" y1="71.81" x2="180.32" y2="75.81" stroke="#f89540" stroke-width="1.3" />
<line x1="188.72" y1="71.81" x2="188.72" y2="75.81" stroke="#f89540" stroke-width="1.3" />
<circle cx="184.52" cy="73.81" r="2" fill="#f89540" />
<line x1="206.06" y1="50.61" x2="206.06" y2="56.33" stroke="#f89540" stroke-width="1.3" />
<line x1="203.26" y1="50.61" x2="208.86" y2="50.61" stroke="#f89540" stroke-width="1.3" />
<line x1="203.26" y1="56.33" x2="208.86" y2="56.33" stroke="#f89540" stroke-width="1.3" />
<line x1="201.86" y1="53.47" x2="210.26" y2="53.47" stroke="#f89540" stroke-width="1.3" />
<line x1="201.86" y1="51.47" x2="201.86" y2="55.47" stroke="#f89540" stroke-width="1.3" />
<line x1="210.26" y1="51.47" x2="210.26" y2="55.47" stroke="#f89540" stroke-width="1.3" />
<circle cx="206.06" cy="53.47" r="2" fill="#f89540" />
<line x1="228.66" y1="40.75" x2="228.66" y2="52.52" stroke="#f89540" stroke-width="1.3" />
<line x1="225.86" y1="40.75" x2="231.46" y2="40.75" stroke="#f89540" stroke-width="1.3" />
<line x1="225.86" y1="52.52" x2="231.46" y2="52.52" stroke="#f89540" stroke-width="1.3" />
<circle cx="228.66" cy="46.64" r="2" fill="#f89540" />
<line x1="190.85" y1="63.59" x2="190.85" y2="69.95" stroke="#fdac33" stroke-width="1.3" />
<line x1="188.05" y1="63.59" x2="193.65" y2="63.59" stroke="#fdac33" stroke-width="1.3" />
<line x1="188.05" y1="69.95" x2="193.65" y2="69.95" stroke="#fdac33" stroke-width="1.3" />
<circle cx="190.85" cy="66.77" r="2" fill="#fdac33" />
<line x1="211.8" y1="33.7" x2="211.8" y2="49.12" stroke="#fdac33" stroke-width="1.3" />
<line x1="209" y1="33.7" x2="214.6" y2="33.7" stroke="#fdac33" stroke-width="1.3" />
<line x1="209" y1="49.12" x2="214.6" y2="49.12" stroke="#fdac33" stroke-width="1.3" />
<circle cx="211.8" cy="41.41" r="2" fill="#fdac33" />
<line x1="194.03" y1="47.34" x2="194.03" y2="66.67" stroke="#fdc527" stroke-width="1.3" />
<line x1="191.23" y1="47.34" x2="196.83" y2="47.34" stroke="#fdc527" stroke-width="1.3" />
<line x1="191.23" y1="66.67" x2="196.83" y2="66.67" stroke="#fdc527" stroke-width="1.3" />
<circle cx="194.03" cy="57" r="2" fill="#fdc527" />
<line x1="217.47" y1="43.1" x2="217.47" y2="49.85" stroke="#fdc527" stroke-width="1.3" />
<line x1="214.67" y1="43.1" x2="220.27" y2="43.1" stroke="#fdc527" stroke-width="1.3" />
<line x1="214.67" y1="49.85" x2="220.27" y2="49.85" stroke="#fdc527" stroke-width="1.3" />
<line x1="213.27" y1="46.48" x2="221.67" y2="46.48" stroke="#fdc527" stroke-width="1.3" />
<line x1="213.27" y1="44.48" x2="213.27" y2="48.48" stroke="#fdc527" stroke-width="1.3" />
<line x1="221.67" y1="44.48" x2="221.67" y2="48.48" stroke="#fdc527" stroke-width="1.3" />
<circle cx="217.47" cy="46.48" r="2" fill="#fdc527" />
<line x1="198.17" y1="49.77" x2="198.17" y2="57.3" stroke="#f8df25" stroke-width="1.3" />
<line x1="195.37" y1="49.77" x2="200.97" y2="49.77" stroke="#f8df25" stroke-width="1.3" />
<line x1="195.37" y1="57.3" x2="200.97" y2="57.3" stroke="#f8df25" stroke-width="1.3" />
<line x1="193.97" y1="53.54" x2="202.37" y2="53.54" stroke="#f8df25" stroke-width="1.3" />
<line x1="193.97" y1="51.54" x2="193.97" y2="55.54" stroke="#f8df25" stroke-width="1.3" />
<line x1="202.37" y1="51.54" x2="202.37" y2="55.54" stroke="#f8df25" stroke-width="1.3" />
<circle cx="198.17" cy="53.54" r="2" fill="#f8df25" />
<line x1="220.52" y1="34.69" x2="220.52" y2="43.75" stroke="#f8df25" stroke-width="1.3" />
<line x1="217.72" y1="34.69" x2="223.32" y2="34.69" stroke="#f8df25" stroke-width="1.3" />
<line x1="217.72" y1="43.75" x2="223.32" y2="43.75" stroke="#f8df25" stroke-width="1.3" />
<circle cx="220.52" cy="39.22" r="2" fill="#f8df25" />
<line x1="139.9" y1="115.8" x2="139.9" y2="122.8" stroke="#f0804e" stroke-width="1.3" />
<line x1="137.1" y1="115.8" x2="142.7" y2="115.8" stroke="#f0804e" stroke-width="1.3" />
<line x1="137.1" y1="122.8" x2="142.7" y2="122.8" stroke="#f0804e" stroke-width="1.3" />
<line x1="135.9" y1="119.3" x2="143.9" y2="119.3" stroke="#f0804e" stroke-width="1.3" />
<line x1="135.9" y1="117.3" x2="135.9" y2="121.3" stroke="#f0804e" stroke-width="1.3" />
<line x1="143.9" y1="117.3" x2="143.9" y2="121.3" stroke="#f0804e" stroke-width="1.3" />
<circle cx="139.9" cy="119.3" r="2.1" fill="#f0804e" />
<line x1="121.5" y1="126.6" x2="121.5" y2="135.8" stroke="#f0804e" stroke-width="1.3" />
<line x1="118.7" y1="126.6" x2="124.3" y2="126.6" stroke="#f0804e" stroke-width="1.3" />
<line x1="118.7" y1="135.8" x2="124.3" y2="135.8" stroke="#f0804e" stroke-width="1.3" />
<line x1="117.5" y1="131.2" x2="125.5" y2="131.2" stroke="#f0804e" stroke-width="1.3" />
<line x1="117.5" y1="129.2" x2="117.5" y2="133.2" stroke="#f0804e" stroke-width="1.3" />
<line x1="125.5" y1="129.2" x2="125.5" y2="133.2" stroke="#f0804e" stroke-width="1.3" />
<circle cx="121.5" cy="131.2" r="2.1" fill="#f0804e" />
<line x1="126.7" y1="133" x2="126.7" y2="142.2" stroke="#fdac33" stroke-width="1.3" />
<line x1="123.9" y1="133" x2="129.5" y2="133" stroke="#fdac33" stroke-width="1.3" />
<line x1="123.9" y1="142.2" x2="129.5" y2="142.2" stroke="#fdac33" stroke-width="1.3" />
<circle cx="126.7" cy="137.6" r="2.1" fill="#fdac33" />
<line x1="130.7" y1="139.1" x2="130.7" y2="147.1" stroke="#fdc527" stroke-width="1.3" />
<line x1="127.9" y1="139.1" x2="133.5" y2="139.1" stroke="#fdc527" stroke-width="1.3" />
<line x1="127.9" y1="147.1" x2="133.5" y2="147.1" stroke="#fdc527" stroke-width="1.3" />
<circle cx="130.7" cy="143.1" r="2.1" fill="#fdc527" />
<line x1="116.9" y1="143.6" x2="116.9" y2="153.6" stroke="#f0804e" stroke-width="1.3" />
<line x1="114.1" y1="143.6" x2="119.7" y2="143.6" stroke="#f0804e" stroke-width="1.3" />
<line x1="114.1" y1="153.6" x2="119.7" y2="153.6" stroke="#f0804e" stroke-width="1.3" />
<circle cx="116.9" cy="148.6" r="2.1" fill="#f0804e" />
<line x1="124.3" y1="142.8" x2="124.3" y2="150.8" stroke="#e66c5c" stroke-width="1.3" />
<line x1="121.5" y1="142.8" x2="127.1" y2="142.8" stroke="#e66c5c" stroke-width="1.3" />
<line x1="121.5" y1="150.8" x2="127.1" y2="150.8" stroke="#e66c5c" stroke-width="1.3" />
<circle cx="124.3" cy="146.8" r="2.1" fill="#e66c5c" />
<line x1="110.5" y1="151" x2="110.5" y2="159" stroke="#f0804e" stroke-width="1.3" />
<line x1="107.7" y1="151" x2="113.3" y2="151" stroke="#f0804e" stroke-width="1.3" />
<line x1="107.7" y1="159" x2="113.3" y2="159" stroke="#f0804e" stroke-width="1.3" />
<line x1="106.5" y1="155" x2="114.5" y2="155" stroke="#f0804e" stroke-width="1.3" />
<line x1="106.5" y1="153" x2="106.5" y2="157" stroke="#f0804e" stroke-width="1.3" />
<line x1="114.5" y1="153" x2="114.5" y2="157" stroke="#f0804e" stroke-width="1.3" />
<circle cx="110.5" cy="155" r="2.1" fill="#f0804e" />
<line x1="132.5" y1="124.5" x2="132.5" y2="130.5" stroke="#f89540" stroke-width="1.3" />
<line x1="129.7" y1="124.5" x2="135.3" y2="124.5" stroke="#f89540" stroke-width="1.3" />
<line x1="129.7" y1="130.5" x2="135.3" y2="130.5" stroke="#f89540" stroke-width="1.3" />
<line x1="128.5" y1="127.5" x2="136.5" y2="127.5" stroke="#f89540" stroke-width="1.3" />
<line x1="128.5" y1="125.5" x2="128.5" y2="129.5" stroke="#f89540" stroke-width="1.3" />
<line x1="136.5" y1="125.5" x2="136.5" y2="129.5" stroke="#f89540" stroke-width="1.3" />
<circle cx="132.5" cy="127.5" r="2.1" fill="#f89540" />
<line x1="150" y1="134.5" x2="150" y2="142.5" stroke="#fdc527" stroke-width="1.3" />
<line x1="147.2" y1="134.5" x2="152.8" y2="134.5" stroke="#fdc527" stroke-width="1.3" />
<line x1="147.2" y1="142.5" x2="152.8" y2="142.5" stroke="#fdc527" stroke-width="1.3" />
<circle cx="150" cy="138.5" r="2.1" fill="#fdc527" />
<line x1="145.4" y1="142.8" x2="145.4" y2="150.8" stroke="#9511a1" stroke-width="1.3" />
<line x1="142.6" y1="142.8" x2="148.2" y2="142.8" stroke="#9511a1" stroke-width="1.3" />
<line x1="142.6" y1="150.8" x2="148.2" y2="150.8" stroke="#9511a1" stroke-width="1.3" />
<circle cx="145.4" cy="146.8" r="2.1" fill="#9511a1" />
<line x1="152.3" y1="141" x2="152.3" y2="149" stroke="#0d0887" stroke-width="1.3" />
<line x1="149.5" y1="141" x2="155.1" y2="141" stroke="#0d0887" stroke-width="1.3" />
<line x1="149.5" y1="149" x2="155.1" y2="149" stroke="#0d0887" stroke-width="1.3" />
<circle cx="152.3" cy="145" r="2.1" fill="#0d0887" />
<line x1="156.4" y1="124.4" x2="156.4" y2="132.4" stroke="#0d0887" stroke-width="1.3" />
<line x1="153.6" y1="124.4" x2="159.2" y2="124.4" stroke="#0d0887" stroke-width="1.3" />
<line x1="153.6" y1="132.4" x2="159.2" y2="132.4" stroke="#0d0887" stroke-width="1.3" />
<circle cx="156.4" cy="128.4" r="2.1" fill="#0d0887" />
<line x1="161" y1="125.4" x2="161" y2="133.4" stroke="#6600a7" stroke-width="1.3" />
<line x1="158.2" y1="125.4" x2="163.8" y2="125.4" stroke="#6600a7" stroke-width="1.3" />
<line x1="158.2" y1="133.4" x2="163.8" y2="133.4" stroke="#6600a7" stroke-width="1.3" />
<circle cx="161" cy="129.4" r="2.1" fill="#6600a7" />
<line x1="160" y1="106.2" x2="160" y2="112.2" stroke="#e66c5c" stroke-width="1.3" />
<line x1="157.2" y1="106.2" x2="162.8" y2="106.2" stroke="#e66c5c" stroke-width="1.3" />
<line x1="157.2" y1="112.2" x2="162.8" y2="112.2" stroke="#e66c5c" stroke-width="1.3" />
<line x1="156" y1="109.2" x2="164" y2="109.2" stroke="#e66c5c" stroke-width="1.3" />
<line x1="156" y1="107.2" x2="156" y2="111.2" stroke="#e66c5c" stroke-width="1.3" />
<line x1="164" y1="107.2" x2="164" y2="111.2" stroke="#e66c5c" stroke-width="1.3" />
<circle cx="160" cy="109.2" r="2.1" fill="#e66c5c" />
<line x1="154.5" y1="109.8" x2="154.5" y2="115.8" stroke="#f0804e" stroke-width="1.3" />
<line x1="151.7" y1="109.8" x2="157.3" y2="109.8" stroke="#f0804e" stroke-width="1.3" />
<line x1="151.7" y1="115.8" x2="157.3" y2="115.8" stroke="#f0804e" stroke-width="1.3" />
<line x1="150.5" y1="112.8" x2="158.5" y2="112.8" stroke="#f0804e" stroke-width="1.3" />
<line x1="150.5" y1="110.8" x2="150.5" y2="114.8" stroke="#f0804e" stroke-width="1.3" />
<line x1="158.5" y1="110.8" x2="158.5" y2="114.8" stroke="#f0804e" stroke-width="1.3" />
<circle cx="154.5" cy="112.8" r="2.1" fill="#f0804e" />
<line x1="172.2" y1="99.8" x2="172.2" y2="106.8" stroke="#6600a7" stroke-width="1.3" />
<line x1="169.4" y1="99.8" x2="175" y2="99.8" stroke="#6600a7" stroke-width="1.3" />
<line x1="169.4" y1="106.8" x2="175" y2="106.8" stroke="#6600a7" stroke-width="1.3" />
<line x1="168.2" y1="103.3" x2="176.2" y2="103.3" stroke="#6600a7" stroke-width="1.3" />
<line x1="168.2" y1="101.3" x2="168.2" y2="105.3" stroke="#6600a7" stroke-width="1.3" />
<line x1="176.2" y1="101.3" x2="176.2" y2="105.3" stroke="#6600a7" stroke-width="1.3" />
<circle cx="172.2" cy="103.3" r="2.1" fill="#6600a7" />
<line x1="179" y1="101.4" x2="179" y2="108.4" stroke="#6600a7" stroke-width="1.3" />
<line x1="176.2" y1="101.4" x2="181.8" y2="101.4" stroke="#6600a7" stroke-width="1.3" />
<line x1="176.2" y1="108.4" x2="181.8" y2="108.4" stroke="#6600a7" stroke-width="1.3" />
<circle cx="179" cy="104.9" r="2.1" fill="#6600a7" />
<line x1="182.9" y1="96.8" x2="182.9" y2="103.8" stroke="#6600a7" stroke-width="1.3" />
<line x1="180.1" y1="96.8" x2="185.7" y2="96.8" stroke="#6600a7" stroke-width="1.3" />
<line x1="180.1" y1="103.8" x2="185.7" y2="103.8" stroke="#6600a7" stroke-width="1.3" />
<line x1="178.9" y1="100.3" x2="186.9" y2="100.3" stroke="#6600a7" stroke-width="1.3" />
<line x1="178.9" y1="98.3" x2="178.9" y2="102.3" stroke="#6600a7" stroke-width="1.3" />
<line x1="186.9" y1="98.3" x2="186.9" y2="102.3" stroke="#6600a7" stroke-width="1.3" />
<circle cx="182.9" cy="100.3" r="2.1" fill="#6600a7" />
<line x1="188.2" y1="96" x2="188.2" y2="103" stroke="#7e03a8" stroke-width="1.3" />
<line x1="185.4" y1="96" x2="191" y2="96" stroke="#7e03a8" stroke-width="1.3" />
<line x1="185.4" y1="103" x2="191" y2="103" stroke="#7e03a8" stroke-width="1.3" />
<circle cx="188.2" cy="99.5" r="2.1" fill="#7e03a8" />
<line x1="181.3" y1="90.4" x2="181.3" y2="96.4" stroke="#7e03a8" stroke-width="1.3" />
<line x1="178.5" y1="90.4" x2="184.1" y2="90.4" stroke="#7e03a8" stroke-width="1.3" />
<line x1="178.5" y1="96.4" x2="184.1" y2="96.4" stroke="#7e03a8" stroke-width="1.3" />
<line x1="177.3" y1="93.4" x2="185.3" y2="93.4" stroke="#7e03a8" stroke-width="1.3" />
<line x1="177.3" y1="91.4" x2="177.3" y2="95.4" stroke="#7e03a8" stroke-width="1.3" />
<line x1="185.3" y1="91.4" x2="185.3" y2="95.4" stroke="#7e03a8" stroke-width="1.3" />
<circle cx="181.3" cy="93.4" r="2.1" fill="#7e03a8" />
<line x1="186.7" y1="88.9" x2="186.7" y2="94.9" stroke="#7e03a8" stroke-width="1.3" />
<line x1="183.9" y1="88.9" x2="189.5" y2="88.9" stroke="#7e03a8" stroke-width="1.3" />
<line x1="183.9" y1="94.9" x2="189.5" y2="94.9" stroke="#7e03a8" stroke-width="1.3" />
<circle cx="186.7" cy="91.9" r="2.1" fill="#7e03a8" />
<line x1="195.1" y1="96.8" x2="195.1" y2="103.8" stroke="#6600a7" stroke-width="1.3" />
<line x1="192.3" y1="96.8" x2="197.9" y2="96.8" stroke="#6600a7" stroke-width="1.3" />
<line x1="192.3" y1="103.8" x2="197.9" y2="103.8" stroke="#6600a7" stroke-width="1.3" />
<line x1="191.1" y1="100.3" x2="199.1" y2="100.3" stroke="#6600a7" stroke-width="1.3" />
<line x1="191.1" y1="98.3" x2="191.1" y2="102.3" stroke="#6600a7" stroke-width="1.3" />
<line x1="199.1" y1="98.3" x2="199.1" y2="102.3" stroke="#6600a7" stroke-width="1.3" />
<circle cx="195.1" cy="100.3" r="2.1" fill="#6600a7" />
<line x1="200.7" y1="92.5" x2="200.7" y2="99.5" stroke="#6600a7" stroke-width="1.3" />
<line x1="197.9" y1="92.5" x2="203.5" y2="92.5" stroke="#6600a7" stroke-width="1.3" />
<line x1="197.9" y1="99.5" x2="203.5" y2="99.5" stroke="#6600a7" stroke-width="1.3" />
<line x1="196.7" y1="96" x2="204.7" y2="96" stroke="#6600a7" stroke-width="1.3" />
<line x1="196.7" y1="94" x2="196.7" y2="98" stroke="#6600a7" stroke-width="1.3" />
<line x1="204.7" y1="94" x2="204.7" y2="98" stroke="#6600a7" stroke-width="1.3" />
<circle cx="200.7" cy="96" r="2.1" fill="#6600a7" />
<line x1="205" y1="97.9" x2="205" y2="104.9" stroke="#6600a7" stroke-width="1.3" />
<line x1="202.2" y1="97.9" x2="207.8" y2="97.9" stroke="#6600a7" stroke-width="1.3" />
<line x1="202.2" y1="104.9" x2="207.8" y2="104.9" stroke="#6600a7" stroke-width="1.3" />
<circle cx="205" cy="101.4" r="2.1" fill="#6600a7" />
<line x1="174.5" y1="116.9" x2="174.5" y2="124.9" stroke="#0d0887" stroke-width="1.3" />
<line x1="171.7" y1="116.9" x2="177.3" y2="116.9" stroke="#0d0887" stroke-width="1.3" />
<line x1="171.7" y1="124.9" x2="177.3" y2="124.9" stroke="#0d0887" stroke-width="1.3" />
<circle cx="174.5" cy="120.9" r="2.1" fill="#0d0887" />
<line x1="191" y1="120" x2="191" y2="128" stroke="#0d0887" stroke-width="1.3" />
<line x1="188.2" y1="120" x2="193.8" y2="120" stroke="#0d0887" stroke-width="1.3" />
<line x1="188.2" y1="128" x2="193.8" y2="128" stroke="#0d0887" stroke-width="1.3" />
<line x1="187" y1="124" x2="195" y2="124" stroke="#0d0887" stroke-width="1.3" />
<line x1="187" y1="122" x2="187" y2="126" stroke="#0d0887" stroke-width="1.3" />
<line x1="195" y1="122" x2="195" y2="126" stroke="#0d0887" stroke-width="1.3" />
<circle cx="191" cy="124" r="2.1" fill="#0d0887" />
<line x1="156.9" y1="123.8" x2="156.9" y2="131.8" stroke="#0d0887" stroke-width="1.3" />
<line x1="154.1" y1="123.8" x2="159.7" y2="123.8" stroke="#0d0887" stroke-width="1.3" />
<line x1="154.1" y1="131.8" x2="159.7" y2="131.8" stroke="#0d0887" stroke-width="1.3" />
<circle cx="156.9" cy="127.8" r="2.1" fill="#0d0887" />
<line x1="169.9" y1="120.8" x2="169.9" y2="128.8" stroke="#310597" stroke-width="1.3" />
<line x1="167.1" y1="120.8" x2="172.7" y2="120.8" stroke="#310597" stroke-width="1.3" />
<line x1="167.1" y1="128.8" x2="172.7" y2="128.8" stroke="#310597" stroke-width="1.3" />
<line x1="165.9" y1="124.8" x2="173.9" y2="124.8" stroke="#310597" stroke-width="1.3" />
<line x1="165.9" y1="122.8" x2="165.9" y2="126.8" stroke="#310597" stroke-width="1.3" />
<line x1="173.9" y1="122.8" x2="173.9" y2="126.8" stroke="#310597" stroke-width="1.3" />
<circle cx="169.9" cy="124.8" r="2.1" fill="#310597" />
<line x1="166.1" y1="116.2" x2="166.1" y2="124.2" stroke="#9511a1" stroke-width="1.3" />
<line x1="163.3" y1="116.2" x2="168.9" y2="116.2" stroke="#9511a1" stroke-width="1.3" />
<line x1="163.3" y1="124.2" x2="168.9" y2="124.2" stroke="#9511a1" stroke-width="1.3" />
<circle cx="166.1" cy="120.2" r="2.1" fill="#9511a1" />
<line x1="161.5" y1="123.8" x2="161.5" y2="131.8" stroke="#aa2395" stroke-width="1.3" />
<line x1="158.7" y1="123.8" x2="164.3" y2="123.8" stroke="#aa2395" stroke-width="1.3" />
<line x1="158.7" y1="131.8" x2="164.3" y2="131.8" stroke="#aa2395" stroke-width="1.3" />
<circle cx="161.5" cy="127.8" r="2.1" fill="#aa2395" />
<line x1="174.5" y1="105.5" x2="174.5" y2="113.5" stroke="#fdc527" stroke-width="1.3" />
<line x1="171.7" y1="105.5" x2="177.3" y2="105.5" stroke="#fdc527" stroke-width="1.3" />
<line x1="171.7" y1="113.5" x2="177.3" y2="113.5" stroke="#fdc527" stroke-width="1.3" />
<circle cx="174.5" cy="109.5" r="2.1" fill="#fdc527" />
<line x1="168.3" y1="102.4" x2="168.3" y2="110.4" stroke="#fdac33" stroke-width="1.3" />
<line x1="165.5" y1="102.4" x2="171.1" y2="102.4" stroke="#fdac33" stroke-width="1.3" />
<line x1="165.5" y1="110.4" x2="171.1" y2="110.4" stroke="#fdac33" stroke-width="1.3" />
<circle cx="168.3" cy="106.4" r="2.1" fill="#fdac33" />
<line x1="163.8" y1="100.3" x2="163.8" y2="106.3" stroke="#fdc527" stroke-width="1.3" />
<line x1="161" y1="100.3" x2="166.6" y2="100.3" stroke="#fdc527" stroke-width="1.3" />
<line x1="161" y1="106.3" x2="166.6" y2="106.3" stroke="#fdc527" stroke-width="1.3" />
<circle cx="163.8" cy="103.3" r="2.1" fill="#fdc527" />
<line x1="143" y1="117" x2="143" y2="123" stroke="#fdac33" stroke-width="1.3" />
<line x1="140.2" y1="117" x2="145.8" y2="117" stroke="#fdac33" stroke-width="1.3" />
<line x1="140.2" y1="123" x2="145.8" y2="123" stroke="#fdac33" stroke-width="1.3" />
<line x1="139" y1="120" x2="147" y2="120" stroke="#fdac33" stroke-width="1.3" />
<line x1="139" y1="118" x2="139" y2="122" stroke="#fdac33" stroke-width="1.3" />
<line x1="147" y1="118" x2="147" y2="122" stroke="#fdac33" stroke-width="1.3" />
<circle cx="143" cy="120" r="2.1" fill="#fdac33" />
<line x1="215.9" y1="64" x2="215.9" y2="72" stroke="#fdc527" stroke-width="1.3" />
<line x1="213.1" y1="64" x2="218.7" y2="64" stroke="#fdc527" stroke-width="1.3" />
<line x1="213.1" y1="72" x2="218.7" y2="72" stroke="#fdc527" stroke-width="1.3" />
<circle cx="215.9" cy="68" r="2.1" fill="#fdc527" />
<line x1="220.5" y1="87.7" x2="220.5" y2="95.7" stroke="#f8df25" stroke-width="1.3" />
<line x1="217.7" y1="87.7" x2="223.3" y2="87.7" stroke="#f8df25" stroke-width="1.3" />
<line x1="217.7" y1="95.7" x2="223.3" y2="95.7" stroke="#f8df25" stroke-width="1.3" />
<circle cx="220.5" cy="91.7" r="2.1" fill="#f8df25" />
<line x1="225.9" y1="96.1" x2="225.9" y2="104.1" stroke="#f8df25" stroke-width="1.3" />
<line x1="223.1" y1="96.1" x2="228.7" y2="96.1" stroke="#f8df25" stroke-width="1.3" />
<line x1="223.1" y1="104.1" x2="228.7" y2="104.1" stroke="#f8df25" stroke-width="1.3" />
<circle cx="225.9" cy="100.1" r="2.1" fill="#f8df25" />
<line x1="199.1" y1="70.1" x2="199.1" y2="78.1" stroke="#fdc527" stroke-width="1.3" />
<line x1="196.3" y1="70.1" x2="201.9" y2="70.1" stroke="#fdc527" stroke-width="1.3" />
<line x1="196.3" y1="78.1" x2="201.9" y2="78.1" stroke="#fdc527" stroke-width="1.3" />
<circle cx="199.1" cy="74.1" r="2.1" fill="#fdc527" />
<line x1="193.8" y1="76" x2="193.8" y2="83" stroke="#fdc527" stroke-width="1.3" />
<line x1="191" y1="76" x2="196.6" y2="76" stroke="#fdc527" stroke-width="1.3" />
<line x1="191" y1="83" x2="196.6" y2="83" stroke="#fdc527" stroke-width="1.3" />
<line x1="189.8" y1="79.5" x2="197.8" y2="79.5" stroke="#fdc527" stroke-width="1.3" />
<line x1="189.8" y1="77.5" x2="189.8" y2="81.5" stroke="#fdc527" stroke-width="1.3" />
<line x1="197.8" y1="77.5" x2="197.8" y2="81.5" stroke="#fdc527" stroke-width="1.3" />
<circle cx="193.8" cy="79.5" r="2.1" fill="#fdc527" />
<line x1="215.9" y1="79.3" x2="215.9" y2="87.3" stroke="#9511a1" stroke-width="1.3" />
<line x1="213.1" y1="79.3" x2="218.7" y2="79.3" stroke="#9511a1" stroke-width="1.3" />
<line x1="213.1" y1="87.3" x2="218.7" y2="87.3" stroke="#9511a1" stroke-width="1.3" />
<circle cx="215.9" cy="83.3" r="2.1" fill="#9511a1" />
<line x1="225.9" y1="56.6" x2="225.9" y2="62.6" stroke="#bc3587" stroke-width="1.3" />
<line x1="223.1" y1="56.6" x2="228.7" y2="56.6" stroke="#bc3587" stroke-width="1.3" />
<line x1="223.1" y1="62.6" x2="228.7" y2="62.6" stroke="#bc3587" stroke-width="1.3" />
<circle cx="225.9" cy="59.6" r="2.1" fill="#bc3587" />
<line x1="193.8" y1="72.6" x2="193.8" y2="78.6" stroke="#9511a1" stroke-width="1.3" />
<line x1="191" y1="72.6" x2="196.6" y2="72.6" stroke="#9511a1" stroke-width="1.3" />
<line x1="191" y1="78.6" x2="196.6" y2="78.6" stroke="#9511a1" stroke-width="1.3" />
<line x1="189.8" y1="75.6" x2="197.8" y2="75.6" stroke="#9511a1" stroke-width="1.3" />
<line x1="189.8" y1="73.6" x2="189.8" y2="77.6" stroke="#9511a1" stroke-width="1.3" />
<line x1="197.8" y1="73.6" x2="197.8" y2="77.6" stroke="#9511a1" stroke-width="1.3" />
<circle cx="193.8" cy="75.6" r="2.1" fill="#9511a1" />
<line x1="188.4" y1="90.2" x2="188.4" y2="96.2" stroke="#6600a7" stroke-width="1.3" />
<line x1="185.6" y1="90.2" x2="191.2" y2="90.2" stroke="#6600a7" stroke-width="1.3" />
<line x1="185.6" y1="96.2" x2="191.2" y2="96.2" stroke="#6600a7" stroke-width="1.3" />
<line x1="184.4" y1="93.2" x2="192.4" y2="93.2" stroke="#6600a7" stroke-width="1.3" />
<line x1="184.4" y1="91.2" x2="184.4" y2="95.2" stroke="#6600a7" stroke-width="1.3" />
<line x1="192.4" y1="91.2" x2="192.4" y2="95.2" stroke="#6600a7" stroke-width="1.3" />
<circle cx="188.4" cy="93.2" r="2.1" fill="#6600a7" />
<line x1="201.4" y1="92.5" x2="201.4" y2="98.5" stroke="#6600a7" stroke-width="1.3" />
<line x1="198.6" y1="92.5" x2="204.2" y2="92.5" stroke="#6600a7" stroke-width="1.3" />
<line x1="198.6" y1="98.5" x2="204.2" y2="98.5" stroke="#6600a7" stroke-width="1.3" />
<line x1="197.4" y1="95.5" x2="205.4" y2="95.5" stroke="#6600a7" stroke-width="1.3" />
<line x1="197.4" y1="93.5" x2="197.4" y2="97.5" stroke="#6600a7" stroke-width="1.3" />
<line x1="205.4" y1="93.5" x2="205.4" y2="97.5" stroke="#6600a7" stroke-width="1.3" />
<circle cx="201.4" cy="95.5" r="2.1" fill="#6600a7" />
<line x1="196.1" y1="97.9" x2="196.1" y2="103.9" stroke="#4c02a1" stroke-width="1.3" />
<line x1="193.3" y1="97.9" x2="198.9" y2="97.9" stroke="#4c02a1" stroke-width="1.3" />
<line x1="193.3" y1="103.9" x2="198.9" y2="103.9" stroke="#4c02a1" stroke-width="1.3" />
<circle cx="196.1" cy="100.9" r="2.1" fill="#4c02a1" />
<line x1="205.2" y1="97.1" x2="205.2" y2="103.1" stroke="#6600a7" stroke-width="1.3" />
<line x1="202.4" y1="97.1" x2="208" y2="97.1" stroke="#6600a7" stroke-width="1.3" />
<line x1="202.4" y1="103.1" x2="208" y2="103.1" stroke="#6600a7" stroke-width="1.3" />
<line x1="201.2" y1="100.1" x2="209.2" y2="100.1" stroke="#6600a7" stroke-width="1.3" />
<line x1="201.2" y1="98.1" x2="201.2" y2="102.1" stroke="#6600a7" stroke-width="1.3" />
<line x1="209.2" y1="98.1" x2="209.2" y2="102.1" stroke="#6600a7" stroke-width="1.3" />
<circle cx="205.2" cy="100.1" r="2.1" fill="#6600a7" />
<line x1="210.6" y1="59.6" x2="210.6" y2="65.6" stroke="#7e03a8" stroke-width="1.3" />
<line x1="207.8" y1="59.6" x2="213.4" y2="59.6" stroke="#7e03a8" stroke-width="1.3" />
<line x1="207.8" y1="65.6" x2="213.4" y2="65.6" stroke="#7e03a8" stroke-width="1.3" />
<line x1="206.6" y1="62.6" x2="214.6" y2="62.6" stroke="#7e03a8" stroke-width="1.3" />
<line x1="206.6" y1="60.6" x2="206.6" y2="64.6" stroke="#7e03a8" stroke-width="1.3" />
<line x1="214.6" y1="60.6" x2="214.6" y2="64.6" stroke="#7e03a8" stroke-width="1.3" />
<circle cx="210.6" cy="62.6" r="2.1" fill="#7e03a8" />
<line x1="192.2" y1="58.1" x2="192.2" y2="64.1" stroke="#e66c5c" stroke-width="1.3" />
<line x1="189.4" y1="58.1" x2="195" y2="58.1" stroke="#e66c5c" stroke-width="1.3" />
<line x1="189.4" y1="64.1" x2="195" y2="64.1" stroke="#e66c5c" stroke-width="1.3" />
<line x1="188.2" y1="61.1" x2="196.2" y2="61.1" stroke="#e66c5c" stroke-width="1.3" />
<line x1="188.2" y1="59.1" x2="188.2" y2="63.1" stroke="#e66c5c" stroke-width="1.3" />
<line x1="196.2" y1="59.1" x2="196.2" y2="63.1" stroke="#e66c5c" stroke-width="1.3" />
<circle cx="192.2" cy="61.1" r="2.1" fill="#e66c5c" />
<line x1="186" y1="63" x2="186" y2="69" stroke="#f0804e" stroke-width="1.3" />
<line x1="183.2" y1="63" x2="188.8" y2="63" stroke="#f0804e" stroke-width="1.3" />
<line x1="183.2" y1="69" x2="188.8" y2="69" stroke="#f0804e" stroke-width="1.3" />
<line x1="182" y1="66" x2="190" y2="66" stroke="#f0804e" stroke-width="1.3" />
<line x1="182" y1="64" x2="182" y2="68" stroke="#f0804e" stroke-width="1.3" />
<line x1="190" y1="64" x2="190" y2="68" stroke="#f0804e" stroke-width="1.3" />
<circle cx="186" cy="66" r="2.1" fill="#f0804e" />
<line x1="199.9" y1="89.5" x2="199.9" y2="96.5" stroke="#7e03a8" stroke-width="1.3" />
<line x1="197.1" y1="89.5" x2="202.7" y2="89.5" stroke="#7e03a8" stroke-width="1.3" />
<line x1="197.1" y1="96.5" x2="202.7" y2="96.5" stroke="#7e03a8" stroke-width="1.3" />
<circle cx="199.9" cy="93" r="2.1" fill="#7e03a8" />
<line x1="182" y1="83" x2="182" y2="89" stroke="#9511a1" stroke-width="1.3" />
<line x1="179.2" y1="83" x2="184.8" y2="83" stroke="#9511a1" stroke-width="1.3" />
<line x1="179.2" y1="89" x2="184.8" y2="89" stroke="#9511a1" stroke-width="1.3" />
<line x1="178" y1="86" x2="186" y2="86" stroke="#9511a1" stroke-width="1.3" />
<line x1="178" y1="84" x2="178" y2="88" stroke="#9511a1" stroke-width="1.3" />
<line x1="186" y1="84" x2="186" y2="88" stroke="#9511a1" stroke-width="1.3" />
<circle cx="182" cy="86" r="2.1" fill="#9511a1" />
<line x1="210" y1="77" x2="210" y2="83" stroke="#aa2395" stroke-width="1.3" />
<line x1="207.2" y1="77" x2="212.8" y2="77" stroke="#aa2395" stroke-width="1.3" />
<line x1="207.2" y1="83" x2="212.8" y2="83" stroke="#aa2395" stroke-width="1.3" />
<circle cx="210" cy="80" r="2.1" fill="#aa2395" />
<line x1="137" y1="109" x2="137" y2="115" stroke="#f0804e" stroke-width="1.3" />
<line x1="134.2" y1="109" x2="139.8" y2="109" stroke="#f0804e" stroke-width="1.3" />
<line x1="134.2" y1="115" x2="139.8" y2="115" stroke="#f0804e" stroke-width="1.3" />
<line x1="133" y1="112" x2="141" y2="112" stroke="#f0804e" stroke-width="1.3" />
<line x1="133" y1="110" x2="133" y2="114" stroke="#f0804e" stroke-width="1.3" />
<line x1="141" y1="110" x2="141" y2="114" stroke="#f0804e" stroke-width="1.3" />
<circle cx="137" cy="112" r="2.1" fill="#f0804e" />
<line x1="148" y1="102" x2="148" y2="108" stroke="#f89540" stroke-width="1.3" />
<line x1="145.2" y1="102" x2="150.8" y2="102" stroke="#f89540" stroke-width="1.3" />
<line x1="145.2" y1="108" x2="150.8" y2="108" stroke="#f89540" stroke-width="1.3" />
<line x1="144" y1="105" x2="152" y2="105" stroke="#f89540" stroke-width="1.3" />
<line x1="144" y1="103" x2="144" y2="107" stroke="#f89540" stroke-width="1.3" />
<line x1="152" y1="103" x2="152" y2="107" stroke="#f89540" stroke-width="1.3" />
<circle cx="148" cy="105" r="2.1" fill="#f89540" />
<line x1="115" y1="136" x2="115" y2="144" stroke="#fdac33" stroke-width="1.3" />
<line x1="112.2" y1="136" x2="117.8" y2="136" stroke="#fdac33" stroke-width="1.3" />
<line x1="112.2" y1="144" x2="117.8" y2="144" stroke="#fdac33" stroke-width="1.3" />
<circle cx="115" cy="140" r="2.1" fill="#fdac33" />
<line x1="112" y1="158" x2="112" y2="166" stroke="#e66c5c" stroke-width="1.3" />
<line x1="109.2" y1="158" x2="114.8" y2="158" stroke="#e66c5c" stroke-width="1.3" />
<line x1="109.2" y1="166" x2="114.8" y2="166" stroke="#e66c5c" stroke-width="1.3" />
<circle cx="112" cy="162" r="2.1" fill="#e66c5c" />
<line x1="220.5" y1="30.4" x2="220.5" y2="294.4" stroke="#fdc527" stroke-width="1.3" />
<line x1="217.2" y1="30.4" x2="223.8" y2="30.4" stroke="#fdc527" stroke-width="1.3" />
<circle cx="220.5" cy="36.5" r="2.1" fill="#fdc527" />
<line x1="225.3" y1="42" x2="225.3" y2="294.4" stroke="#fdac33" stroke-width="1.3" />
<line x1="222" y1="42" x2="228.6" y2="42" stroke="#fdac33" stroke-width="1.3" />
<circle cx="225.3" cy="48" r="2.1" fill="#fdac33" />
<line x1="233.8" y1="48" x2="233.8" y2="294.4" stroke="#f89540" stroke-width="1.3" />
<line x1="230.5" y1="48" x2="237.1" y2="48" stroke="#f89540" stroke-width="1.3" />
<circle cx="233.8" cy="54.6" r="2.1" fill="#f89540" />
<line x1="238.4" y1="23.7" x2="238.4" y2="294.4" stroke="#fdc527" stroke-width="1.3" />
<line x1="235.1" y1="23.7" x2="241.7" y2="23.7" stroke="#fdc527" stroke-width="1.3" />
<circle cx="238.4" cy="34" r="2.1" fill="#fdc527" />
<line x1="238.4" y1="74" x2="238.4" y2="294.4" stroke="#f8df25" stroke-width="1.3" />
<line x1="235.1" y1="74" x2="241.7" y2="74" stroke="#f8df25" stroke-width="1.3" />
<circle cx="238.4" cy="79" r="2.1" fill="#f8df25" />
<line x1="243.5" y1="60" x2="243.5" y2="294.4" stroke="#f8df25" stroke-width="1.3" />
<line x1="240.2" y1="60" x2="246.8" y2="60" stroke="#f8df25" stroke-width="1.3" />
<circle cx="243.5" cy="66" r="2.1" fill="#f8df25" />
<line x1="245.6" y1="36" x2="245.6" y2="294.4" stroke="#f89540" stroke-width="1.3" />
<line x1="242.3" y1="36" x2="248.9" y2="36" stroke="#f89540" stroke-width="1.3" />
<circle cx="245.6" cy="46.3" r="2.1" fill="#f89540" />
<line x1="251" y1="56" x2="251" y2="294.4" stroke="#f89540" stroke-width="1.3" />
<line x1="247.7" y1="56" x2="254.3" y2="56" stroke="#f89540" stroke-width="1.3" />
<circle cx="251" cy="62" r="2.1" fill="#f89540" />
<line x1="255.5" y1="54.6" x2="255.5" y2="294.4" stroke="#fdc527" stroke-width="1.3" />
<line x1="252.2" y1="54.6" x2="258.8" y2="54.6" stroke="#fdc527" stroke-width="1.3" />
<circle cx="255.5" cy="62" r="2.1" fill="#fdc527" />
<line x1="281.3" y1="76.9" x2="281.3" y2="90" stroke="#e66c5c" stroke-width="1.3" />
<line x1="278" y1="76.9" x2="284.6" y2="76.9" stroke="#e66c5c" stroke-width="1.3" />
<line x1="278" y1="90" x2="284.6" y2="90" stroke="#e66c5c" stroke-width="1.3" />
<circle cx="281.3" cy="83.6" r="2.1" fill="#e66c5c" />
<line x1="285.9" y1="118" x2="285.9" y2="294.4" stroke="#f0804e" stroke-width="1.3" />
<line x1="282.6" y1="118" x2="289.2" y2="118" stroke="#f0804e" stroke-width="1.3" />
<circle cx="285.9" cy="126.1" r="2.1" fill="#f0804e" />
<line x1="290.9" y1="85.7" x2="290.9" y2="294.4" stroke="#f0804e" stroke-width="1.3" />
<line x1="287.6" y1="85.7" x2="294.2" y2="85.7" stroke="#f0804e" stroke-width="1.3" />
<circle cx="290.9" cy="111.8" r="2.1" fill="#f0804e" />
<line x1="296" y1="68.5" x2="296" y2="95" stroke="#f89540" stroke-width="1.3" />
<line x1="292.7" y1="68.5" x2="299.3" y2="68.5" stroke="#f89540" stroke-width="1.3" />
<line x1="292.7" y1="95" x2="299.3" y2="95" stroke="#f89540" stroke-width="1.3" />
<circle cx="296" cy="81.1" r="2.1" fill="#f89540" />
<line x1="296.8" y1="108" x2="296.8" y2="139.6" stroke="#cc4778" stroke-width="1.3" />
<line x1="293.5" y1="108" x2="300.1" y2="108" stroke="#cc4778" stroke-width="1.3" />
<line x1="293.5" y1="139.6" x2="300.1" y2="139.6" stroke="#cc4778" stroke-width="1.3" />
<circle cx="296.8" cy="118.5" r="2.1" fill="#cc4778" />
<line x1="300.7" y1="57.6" x2="300.7" y2="294.4" stroke="#fdc527" stroke-width="1.3" />
<line x1="297.4" y1="57.6" x2="304" y2="57.6" stroke="#fdc527" stroke-width="1.3" />
<circle cx="300.7" cy="77.2" r="2.1" fill="#fdc527" />
<line x1="301.9" y1="91.2" x2="301.9" y2="101" stroke="#cc4778" stroke-width="1.3" />
<line x1="298.6" y1="91.2" x2="305.2" y2="91.2" stroke="#cc4778" stroke-width="1.3" />
<line x1="298.6" y1="101" x2="305.2" y2="101" stroke="#cc4778" stroke-width="1.3" />
<circle cx="301.9" cy="96.3" r="2.1" fill="#cc4778" />
<line x1="305.4" y1="93.4" x2="305.4" y2="294.4" stroke="#f8df25" stroke-width="1.3" />
<line x1="302.1" y1="93.4" x2="308.7" y2="93.4" stroke="#f8df25" stroke-width="1.3" />
<circle cx="305.4" cy="104" r="2.1" fill="#f8df25" />
<line x1="306.9" y1="96" x2="306.9" y2="107" stroke="#e66c5c" stroke-width="1.3" />
<line x1="303.6" y1="96" x2="310.2" y2="96" stroke="#e66c5c" stroke-width="1.3" />
<line x1="303.6" y1="107" x2="310.2" y2="107" stroke="#e66c5c" stroke-width="1.3" />
<circle cx="306.9" cy="101.7" r="2.1" fill="#e66c5c" />
<line x1="311.1" y1="102" x2="311.1" y2="294.4" stroke="#f0804e" stroke-width="1.3" />
<line x1="307.8" y1="102" x2="314.4" y2="102" stroke="#f0804e" stroke-width="1.3" />
<circle cx="311.1" cy="110" r="2.1" fill="#f0804e" />
<line x1="316.2" y1="90.4" x2="316.2" y2="137.9" stroke="#f89540" stroke-width="1.3" />
<line x1="312.9" y1="90.4" x2="319.5" y2="90.4" stroke="#f89540" stroke-width="1.3" />
<line x1="312.9" y1="137.9" x2="319.5" y2="137.9" stroke="#f89540" stroke-width="1.3" />
<circle cx="316.2" cy="103.4" r="2.1" fill="#f89540" />
<line x1="321.2" y1="95.8" x2="321.2" y2="294.4" stroke="#fdac33" stroke-width="1.3" />
<line x1="317.9" y1="95.8" x2="324.5" y2="95.8" stroke="#fdac33" stroke-width="1.3" />
<circle cx="321.2" cy="100" r="2.1" fill="#fdac33" />
<line x1="326.3" y1="61.4" x2="326.3" y2="95.8" stroke="#fdc527" stroke-width="1.3" />
<line x1="323" y1="61.4" x2="329.6" y2="61.4" stroke="#fdc527" stroke-width="1.3" />
<line x1="323" y1="95.8" x2="329.6" y2="95.8" stroke="#fdc527" stroke-width="1.3" />
<circle cx="326.3" cy="72.7" r="2.1" fill="#fdc527" />
<line x1="331.6" y1="105.4" x2="331.6" y2="294.4" stroke="#f8df25" stroke-width="1.3" />
<line x1="328.3" y1="105.4" x2="334.9" y2="105.4" stroke="#f8df25" stroke-width="1.3" />
<circle cx="331.6" cy="115" r="2.1" fill="#f8df25" />
<line x1="266.1" y1="73" x2="266.1" y2="82" stroke="#cc4778" stroke-width="1.3" />
<line x1="262.8" y1="73" x2="269.4" y2="73" stroke="#cc4778" stroke-width="1.3" />
<line x1="262.8" y1="82" x2="269.4" y2="82" stroke="#cc4778" stroke-width="1.3" />
<circle cx="266.1" cy="77.7" r="2.1" fill="#cc4778" />
<line x1="271.3" y1="77" x2="271.3" y2="86" stroke="#da5a6a" stroke-width="1.3" />
<line x1="268" y1="77" x2="274.6" y2="77" stroke="#da5a6a" stroke-width="1.3" />
<line x1="268" y1="86" x2="274.6" y2="86" stroke="#da5a6a" stroke-width="1.3" />
<circle cx="271.3" cy="81.6" r="2.1" fill="#da5a6a" />
<line x1="280.3" y1="80" x2="280.3" y2="88" stroke="#da5a6a" stroke-width="1.3" />
<line x1="277" y1="80" x2="283.6" y2="80" stroke="#da5a6a" stroke-width="1.3" />
<line x1="277" y1="88" x2="283.6" y2="88" stroke="#da5a6a" stroke-width="1.3" />
<circle cx="280.3" cy="84.1" r="2.1" fill="#da5a6a" />
<line x1="260" y1="65" x2="260" y2="75" stroke="#e66c5c" stroke-width="1.3" />
<line x1="256.7" y1="65" x2="263.3" y2="65" stroke="#e66c5c" stroke-width="1.3" />
<line x1="256.7" y1="75" x2="263.3" y2="75" stroke="#e66c5c" stroke-width="1.3" />
<circle cx="260" cy="70" r="2.1" fill="#e66c5c" />
<line x1="275" y1="71" x2="275" y2="81" stroke="#f0804e" stroke-width="1.3" />
<line x1="271.7" y1="71" x2="278.3" y2="71" stroke="#f0804e" stroke-width="1.3" />
<line x1="271.7" y1="81" x2="278.3" y2="81" stroke="#f0804e" stroke-width="1.3" />
<circle cx="275" cy="76" r="2.1" fill="#f0804e" />
<line x1="232.3" y1="108.4" x2="232.3" y2="117.4" stroke="#0d0887" stroke-width="1.3" />
<line x1="229.7" y1="108.4" x2="234.9" y2="108.4" stroke="#0d0887" stroke-width="1.3" />
<line x1="229.7" y1="117.4" x2="234.9" y2="117.4" stroke="#0d0887" stroke-width="1.3" />
<line x1="228.7" y1="112.9" x2="235.9" y2="112.9" stroke="#0d0887" stroke-width="1.3" />
<line x1="228.7" y1="110.9" x2="228.7" y2="114.9" stroke="#0d0887" stroke-width="1.3" />
<line x1="235.9" y1="110.9" x2="235.9" y2="114.9" stroke="#0d0887" stroke-width="1.3" />
<circle cx="232.3" cy="112.9" r="2.1" fill="#0d0887" />
<line x1="236.7" y1="103.7" x2="236.7" y2="112.7" stroke="#310597" stroke-width="1.3" />
<line x1="234.1" y1="103.7" x2="239.3" y2="103.7" stroke="#310597" stroke-width="1.3" />
<line x1="234.1" y1="112.7" x2="239.3" y2="112.7" stroke="#310597" stroke-width="1.3" />
<line x1="233.1" y1="108.2" x2="240.3" y2="108.2" stroke="#310597" stroke-width="1.3" />
<line x1="233.1" y1="106.2" x2="233.1" y2="110.2" stroke="#310597" stroke-width="1.3" />
<line x1="240.3" y1="106.2" x2="240.3" y2="110.2" stroke="#310597" stroke-width="1.3" />
<circle cx="236.7" cy="108.2" r="2.1" fill="#310597" />
<line x1="241.9" y1="96.4" x2="241.9" y2="105.4" stroke="#4c02a1" stroke-width="1.3" />
<line x1="239.3" y1="96.4" x2="244.5" y2="96.4" stroke="#4c02a1" stroke-width="1.3" />
<line x1="239.3" y1="105.4" x2="244.5" y2="105.4" stroke="#4c02a1" stroke-width="1.3" />
<line x1="238.3" y1="100.9" x2="245.5" y2="100.9" stroke="#4c02a1" stroke-width="1.3" />
<line x1="238.3" y1="98.9" x2="238.3" y2="102.9" stroke="#4c02a1" stroke-width="1.3" />
<line x1="245.5" y1="98.9" x2="245.5" y2="102.9" stroke="#4c02a1" stroke-width="1.3" />
<circle cx="241.9" cy="100.9" r="2.1" fill="#4c02a1" />
<line x1="247.1" y1="90.7" x2="247.1" y2="99.7" stroke="#6600a7" stroke-width="1.3" />
<line x1="244.5" y1="90.7" x2="249.7" y2="90.7" stroke="#6600a7" stroke-width="1.3" />
<line x1="244.5" y1="99.7" x2="249.7" y2="99.7" stroke="#6600a7" stroke-width="1.3" />
<line x1="243.5" y1="95.2" x2="250.7" y2="95.2" stroke="#6600a7" stroke-width="1.3" />
<line x1="243.5" y1="93.2" x2="243.5" y2="97.2" stroke="#6600a7" stroke-width="1.3" />
<line x1="250.7" y1="93.2" x2="250.7" y2="97.2" stroke="#6600a7" stroke-width="1.3" />
<circle cx="247.1" cy="95.2" r="2.1" fill="#6600a7" />
<line x1="251" y1="86" x2="251" y2="95" stroke="#6600a7" stroke-width="1.3" />
<line x1="248.4" y1="86" x2="253.6" y2="86" stroke="#6600a7" stroke-width="1.3" />
<line x1="248.4" y1="95" x2="253.6" y2="95" stroke="#6600a7" stroke-width="1.3" />
<line x1="247.4" y1="90.5" x2="254.6" y2="90.5" stroke="#6600a7" stroke-width="1.3" />
<line x1="247.4" y1="88.5" x2="247.4" y2="92.5" stroke="#6600a7" stroke-width="1.3" />
<line x1="254.6" y1="88.5" x2="254.6" y2="92.5" stroke="#6600a7" stroke-width="1.3" />
<circle cx="251" cy="90.5" r="2.1" fill="#6600a7" />
<line x1="257.3" y1="128.4" x2="257.3" y2="137.4" stroke="#0d0887" stroke-width="1.3" />
<line x1="254.7" y1="128.4" x2="259.9" y2="128.4" stroke="#0d0887" stroke-width="1.3" />
<line x1="254.7" y1="137.4" x2="259.9" y2="137.4" stroke="#0d0887" stroke-width="1.3" />
<line x1="253.7" y1="132.9" x2="260.9" y2="132.9" stroke="#0d0887" stroke-width="1.3" />
<line x1="253.7" y1="130.9" x2="253.7" y2="134.9" stroke="#0d0887" stroke-width="1.3" />
<line x1="260.9" y1="130.9" x2="260.9" y2="134.9" stroke="#0d0887" stroke-width="1.3" />
<circle cx="257.3" cy="132.9" r="2.1" fill="#0d0887" />
<line x1="262" y1="129.7" x2="262" y2="138.7" stroke="#310597" stroke-width="1.3" />
<line x1="259.4" y1="129.7" x2="264.6" y2="129.7" stroke="#310597" stroke-width="1.3" />
<line x1="259.4" y1="138.7" x2="264.6" y2="138.7" stroke="#310597" stroke-width="1.3" />
<line x1="258.4" y1="134.2" x2="265.6" y2="134.2" stroke="#310597" stroke-width="1.3" />
<line x1="258.4" y1="132.2" x2="258.4" y2="136.2" stroke="#310597" stroke-width="1.3" />
<line x1="265.6" y1="132.2" x2="265.6" y2="136.2" stroke="#310597" stroke-width="1.3" />
<circle cx="262" cy="134.2" r="2.1" fill="#310597" />
<line x1="267" y1="125.2" x2="267" y2="134.2" stroke="#4c02a1" stroke-width="1.3" />
<line x1="264.4" y1="125.2" x2="269.6" y2="125.2" stroke="#4c02a1" stroke-width="1.3" />
<line x1="264.4" y1="134.2" x2="269.6" y2="134.2" stroke="#4c02a1" stroke-width="1.3" />
<line x1="263.4" y1="129.7" x2="270.6" y2="129.7" stroke="#4c02a1" stroke-width="1.3" />
<line x1="263.4" y1="127.7" x2="263.4" y2="131.7" stroke="#4c02a1" stroke-width="1.3" />
<line x1="270.6" y1="127.7" x2="270.6" y2="131.7" stroke="#4c02a1" stroke-width="1.3" />
<circle cx="267" cy="129.7" r="2.1" fill="#4c02a1" />
<line x1="271.6" y1="121.5" x2="271.6" y2="130.5" stroke="#4c02a1" stroke-width="1.3" />
<line x1="269" y1="121.5" x2="274.2" y2="121.5" stroke="#4c02a1" stroke-width="1.3" />
<line x1="269" y1="130.5" x2="274.2" y2="130.5" stroke="#4c02a1" stroke-width="1.3" />
<line x1="268" y1="126" x2="275.2" y2="126" stroke="#4c02a1" stroke-width="1.3" />
<line x1="268" y1="124" x2="268" y2="128" stroke="#4c02a1" stroke-width="1.3" />
<line x1="275.2" y1="124" x2="275.2" y2="128" stroke="#4c02a1" stroke-width="1.3" />
<circle cx="271.6" cy="126" r="2.1" fill="#4c02a1" />
<line x1="277" y1="107.7" x2="277" y2="116.7" stroke="#6600a7" stroke-width="1.3" />
<line x1="274.4" y1="107.7" x2="279.6" y2="107.7" stroke="#6600a7" stroke-width="1.3" />
<line x1="274.4" y1="116.7" x2="279.6" y2="116.7" stroke="#6600a7" stroke-width="1.3" />
<line x1="273.4" y1="112.2" x2="280.6" y2="112.2" stroke="#6600a7" stroke-width="1.3" />
<line x1="273.4" y1="110.2" x2="273.4" y2="114.2" stroke="#6600a7" stroke-width="1.3" />
<line x1="280.6" y1="110.2" x2="280.6" y2="114.2" stroke="#6600a7" stroke-width="1.3" />
<circle cx="277" cy="112.2" r="2.1" fill="#6600a7" />
<line x1="281.8" y1="102.8" x2="281.8" y2="111.8" stroke="#7e03a8" stroke-width="1.3" />
<line x1="279.2" y1="102.8" x2="284.4" y2="102.8" stroke="#7e03a8" stroke-width="1.3" />
<line x1="279.2" y1="111.8" x2="284.4" y2="111.8" stroke="#7e03a8" stroke-width="1.3" />
<line x1="278.2" y1="107.3" x2="285.4" y2="107.3" stroke="#7e03a8" stroke-width="1.3" />
<line x1="278.2" y1="105.3" x2="278.2" y2="109.3" stroke="#7e03a8" stroke-width="1.3" />
<line x1="285.4" y1="105.3" x2="285.4" y2="109.3" stroke="#7e03a8" stroke-width="1.3" />
<circle cx="281.8" cy="107.3" r="2.1" fill="#7e03a8" />
<line x1="286.7" y1="101.6" x2="286.7" y2="110.6" stroke="#7e03a8" stroke-width="1.3" />
<line x1="284.1" y1="101.6" x2="289.3" y2="101.6" stroke="#7e03a8" stroke-width="1.3" />
<line x1="284.1" y1="110.6" x2="289.3" y2="110.6" stroke="#7e03a8" stroke-width="1.3" />
<line x1="283.1" y1="106.1" x2="290.3" y2="106.1" stroke="#7e03a8" stroke-width="1.3" />
<line x1="283.1" y1="104.1" x2="283.1" y2="108.1" stroke="#7e03a8" stroke-width="1.3" />
<line x1="290.3" y1="104.1" x2="290.3" y2="108.1" stroke="#7e03a8" stroke-width="1.3" />
<circle cx="286.7" cy="106.1" r="2.1" fill="#7e03a8" />
<line x1="191.9" y1="119.1" x2="191.9" y2="128.1" stroke="#0d0887" stroke-width="1.3" />
<line x1="189.3" y1="119.1" x2="194.5" y2="119.1" stroke="#0d0887" stroke-width="1.3" />
<line x1="189.3" y1="128.1" x2="194.5" y2="128.1" stroke="#0d0887" stroke-width="1.3" />
<line x1="188.3" y1="123.6" x2="195.5" y2="123.6" stroke="#0d0887" stroke-width="1.3" />
<line x1="188.3" y1="121.6" x2="188.3" y2="125.6" stroke="#0d0887" stroke-width="1.3" />
<line x1="195.5" y1="121.6" x2="195.5" y2="125.6" stroke="#0d0887" stroke-width="1.3" />
<circle cx="191.9" cy="123.6" r="2.1" fill="#0d0887" />
<line x1="179.6" y1="121.5" x2="179.6" y2="130.5" stroke="#0d0887" stroke-width="1.3" />
<line x1="177" y1="121.5" x2="182.2" y2="121.5" stroke="#0d0887" stroke-width="1.3" />
<line x1="177" y1="130.5" x2="182.2" y2="130.5" stroke="#0d0887" stroke-width="1.3" />
<line x1="176" y1="126" x2="183.2" y2="126" stroke="#0d0887" stroke-width="1.3" />
<line x1="176" y1="124" x2="176" y2="128" stroke="#0d0887" stroke-width="1.3" />
<line x1="183.2" y1="124" x2="183.2" y2="128" stroke="#0d0887" stroke-width="1.3" />
<circle cx="179.6" cy="126" r="2.1" fill="#0d0887" />
<line x1="62.8" y1="212" x2="62.8" y2="292.4" stroke="#0d0887" stroke-width="1.3" />
<line x1="64.2" y1="230" x2="64.2" y2="292.4" stroke="#0d0887" stroke-width="1.3" />
<line x1="65.8" y1="215" x2="65.8" y2="292.4" stroke="#0d0887" stroke-width="1.3" />
<line x1="67.1" y1="236" x2="67.1" y2="292.4" stroke="#6600a7" stroke-width="1.3" />
<line x1="78.2" y1="214" x2="78.2" y2="292.4" stroke="#6600a7" stroke-width="1.3" />
<line x1="80.3" y1="215" x2="80.3" y2="292.4" stroke="#0d0887" stroke-width="1.3" />
<line x1="85.4" y1="238" x2="85.4" y2="292.4" stroke="#0d0887" stroke-width="1.3" />
<line x1="94.9" y1="210" x2="94.9" y2="292.4" stroke="#7e03a8" stroke-width="1.3" />
<line x1="96.7" y1="200" x2="96.7" y2="292.4" stroke="#cc4778" stroke-width="1.3" />
<line x1="100" y1="205" x2="100" y2="292.4" stroke="#0d0887" stroke-width="1.3" />
<line x1="101.6" y1="222" x2="101.6" y2="292.4" stroke="#0d0887" stroke-width="1.3" />
<line x1="105.3" y1="215" x2="105.3" y2="292.4" stroke="#9511a1" stroke-width="1.3" />
<line x1="125.4" y1="190" x2="125.4" y2="292.4" stroke="#0d0887" stroke-width="1.3" />
<line x1="135.7" y1="185" x2="135.7" y2="292.4" stroke="#f8df25" stroke-width="1.3" />
<line x1="146.9" y1="170" x2="146.9" y2="292.4" stroke="#0d0887" stroke-width="1.3" />
<line x1="151.1" y1="175" x2="151.1" y2="292.4" stroke="#0d0887" stroke-width="1.3" />
<line x1="154.3" y1="180" x2="154.3" y2="292.4" stroke="#fdc527" stroke-width="1.3" />
<line x1="169.4" y1="147" x2="169.4" y2="292.4" stroke="#0d0887" stroke-width="1.3" />
<line x1="161.3" y1="150" x2="161.3" y2="292.4" stroke="#0d0887" stroke-width="1.3" />
<line x1="186.4" y1="123.6" x2="186.4" y2="292.4" stroke="#0d0887" stroke-width="1.3" />
<line x1="220.3" y1="60" x2="220.3" y2="292.4" stroke="#f8df25" stroke-width="1.3" />
<line x1="225.5" y1="60" x2="225.5" y2="292.4" stroke="#fdc527" stroke-width="1.3" />
<line x1="63" y1="212" x2="63" y2="294.4" stroke="#0d0887" stroke-width="1.3" />
<line x1="59.7" y1="212" x2="66.3" y2="212" stroke="#0d0887" stroke-width="1.3" />
<circle cx="63" cy="228.8" r="2.1" fill="#0d0887" />
<line x1="72.6" y1="214.3" x2="72.6" y2="240" stroke="#6600a7" stroke-width="1.3" />
<line x1="69.3" y1="214.3" x2="75.9" y2="214.3" stroke="#6600a7" stroke-width="1.3" />
<line x1="69.3" y1="240" x2="75.9" y2="240" stroke="#6600a7" stroke-width="1.3" />
<circle cx="72.6" cy="223.9" r="2.1" fill="#6600a7" />
<line x1="80.4" y1="215" x2="80.4" y2="294.4" stroke="#0d0887" stroke-width="1.3" />
<line x1="77.1" y1="215" x2="83.7" y2="215" stroke="#0d0887" stroke-width="1.3" />
<circle cx="80.4" cy="238.5" r="2.1" fill="#0d0887" />
<line x1="82.3" y1="205.5" x2="82.3" y2="226" stroke="#9511a1" stroke-width="1.3" />
<line x1="79" y1="205.5" x2="85.6" y2="205.5" stroke="#9511a1" stroke-width="1.3" />
<line x1="79" y1="226" x2="85.6" y2="226" stroke="#9511a1" stroke-width="1.3" />
<circle cx="82.3" cy="216" r="2.1" fill="#9511a1" />
<line x1="90.2" y1="206.4" x2="90.2" y2="221" stroke="#6600a7" stroke-width="1.3" />
<line x1="86.9" y1="206.4" x2="93.5" y2="206.4" stroke="#6600a7" stroke-width="1.3" />
<line x1="86.9" y1="221" x2="93.5" y2="221" stroke="#6600a7" stroke-width="1.3" />
<circle cx="90.2" cy="213.8" r="2.1" fill="#6600a7" />
<line x1="85.4" y1="238" x2="85.4" y2="294.4" stroke="#310597" stroke-width="1.3" />
<line x1="82.1" y1="238" x2="88.7" y2="238" stroke="#310597" stroke-width="1.3" />
<circle cx="85.4" cy="245.9" r="2.1" fill="#310597" />
<line x1="95.1" y1="232" x2="95.1" y2="294.4" stroke="#6600a7" stroke-width="1.3" />
<line x1="91.8" y1="232" x2="98.4" y2="232" stroke="#6600a7" stroke-width="1.3" />
<circle cx="95.1" cy="240" r="2.1" fill="#6600a7" />
<line x1="105.2" y1="214" x2="105.2" y2="228" stroke="#6600a7" stroke-width="1.3" />
<line x1="101.9" y1="214" x2="108.5" y2="214" stroke="#6600a7" stroke-width="1.3" />
<line x1="101.9" y1="228" x2="108.5" y2="228" stroke="#6600a7" stroke-width="1.3" />
<circle cx="105.2" cy="221.1" r="2.1" fill="#6600a7" />
<line x1="101.5" y1="220" x2="101.5" y2="294.4" stroke="#0d0887" stroke-width="1.3" />
<line x1="98.2" y1="220" x2="104.8" y2="220" stroke="#0d0887" stroke-width="1.3" />
<circle cx="101.5" cy="227.5" r="2.1" fill="#0d0887" />
<line x1="92" y1="186.3" x2="92" y2="211" stroke="#9511a1" stroke-width="1.3" />
<line x1="88.7" y1="186.3" x2="95.3" y2="186.3" stroke="#9511a1" stroke-width="1.3" />
<line x1="88.7" y1="211" x2="95.3" y2="211" stroke="#9511a1" stroke-width="1.3" />
<circle cx="92" cy="198.6" r="2.1" fill="#9511a1" />
<line x1="106.7" y1="160.1" x2="106.7" y2="178" stroke="#da5a6a" stroke-width="1.3" />
<line x1="103.4" y1="160.1" x2="110" y2="160.1" stroke="#da5a6a" stroke-width="1.3" />
<line x1="103.4" y1="178" x2="110" y2="178" stroke="#da5a6a" stroke-width="1.3" />
<circle cx="106.7" cy="169.3" r="2.1" fill="#da5a6a" />
<line x1="101.9" y1="175" x2="101.9" y2="189" stroke="#bc3587" stroke-width="1.3" />
<line x1="98.6" y1="175" x2="105.2" y2="175" stroke="#bc3587" stroke-width="1.3" />
<line x1="98.6" y1="189" x2="105.2" y2="189" stroke="#bc3587" stroke-width="1.3" />
<circle cx="101.9" cy="182.1" r="2.1" fill="#bc3587" />
<line x1="110.3" y1="178" x2="110.3" y2="190" stroke="#6600a7" stroke-width="1.3" />
<line x1="107" y1="178" x2="113.6" y2="178" stroke="#6600a7" stroke-width="1.3" />
<line x1="107" y1="190" x2="113.6" y2="190" stroke="#6600a7" stroke-width="1.3" />
<circle cx="110.3" cy="184" r="2.1" fill="#6600a7" />
<line x1="111" y1="160" x2="111" y2="173" stroke="#f0804e" stroke-width="1.3" />
<line x1="107.7" y1="160" x2="114.3" y2="160" stroke="#f0804e" stroke-width="1.3" />
<line x1="107.7" y1="173" x2="114.3" y2="173" stroke="#f0804e" stroke-width="1.3" />
<circle cx="111" cy="166.5" r="2.1" fill="#f0804e" />
<line x1="125.4" y1="185" x2="125.4" y2="294.4" stroke="#0d0887" stroke-width="1.3" />
<line x1="122.1" y1="185" x2="128.7" y2="185" stroke="#0d0887" stroke-width="1.3" />
<circle cx="125.4" cy="193" r="2.1" fill="#0d0887" />
<line x1="130.9" y1="195" x2="130.9" y2="217.1" stroke="#fdac33" stroke-width="1.3" />
<line x1="127.6" y1="195" x2="134.2" y2="195" stroke="#fdac33" stroke-width="1.3" />
<line x1="127.6" y1="217.1" x2="134.2" y2="217.1" stroke="#fdac33" stroke-width="1.3" />
<circle cx="130.9" cy="205" r="2.1" fill="#fdac33" />
<line x1="149.5" y1="181" x2="149.5" y2="199.5" stroke="#fdac33" stroke-width="1.3" />
<line x1="146.2" y1="181" x2="152.8" y2="181" stroke="#fdac33" stroke-width="1.3" />
<line x1="146.2" y1="199.5" x2="152.8" y2="199.5" stroke="#fdac33" stroke-width="1.3" />
<circle cx="149.5" cy="190" r="2.1" fill="#fdac33" />
<line x1="161.4" y1="150" x2="161.4" y2="274.3" stroke="#6600a7" stroke-width="1.3" />
<line x1="158.1" y1="150" x2="164.7" y2="150" stroke="#6600a7" stroke-width="1.3" />
<line x1="158.1" y1="274.3" x2="164.7" y2="274.3" stroke="#6600a7" stroke-width="1.3" />
<circle cx="161.4" cy="180" r="2.1" fill="#6600a7" />
<line x1="169.4" y1="215.5" x2="169.4" y2="294.4" stroke="#0d0887" stroke-width="1.3" />
<circle cx="169.4" cy="215.5" r="2.1" fill="#0d0887" />
<line x1="186.4" y1="143.5" x2="186.4" y2="294.4" stroke="#0d0887" stroke-width="1.3" />
<line x1="183.1" y1="143.5" x2="189.7" y2="143.5" stroke="#0d0887" stroke-width="1.3" />
<circle cx="186.4" cy="147.5" r="2.1" fill="#0d0887" />
</g>
<g clip-path="url(#clipA)">
<path d="M45.79,320.81 L47.26,318.09 L48.72,315.36 L50.18,312.63 L51.64,309.9 L53.1,307.17 L54.56,304.44 L56.02,301.72 L57.48,298.99 L58.94,296.26 L60.4,293.53 L61.86,290.8 L63.32,288.08 L64.78,285.35 L66.24,282.62 L67.7,279.9 L69.16,277.17 L70.62,274.44 L72.08,271.72 L73.54,268.99 L75,266.27 L76.46,263.54 L77.92,260.82 L79.38,258.09 L80.84,255.37 L82.3,252.64 L83.76,249.92 L85.22,247.2 L86.68,244.47 L88.14,241.75 L89.6,239.03 L91.06,236.31 L92.52,233.59 L93.98,230.87 L95.44,228.15 L96.9,225.44 L98.36,222.72 L99.82,220 L101.28,217.29 L102.74,214.58 L104.2,211.86 L105.66,209.15 L107.12,206.44 L108.58,203.74 L110.04,201.03 L111.5,198.32 L112.96,195.62 L114.42,192.92 L115.88,190.22 L117.34,187.52 L118.8,184.83 L120.26,182.14 L121.73,179.45 L123.19,176.76 L124.65,174.08 L126.11,171.4 L127.57,168.73 L129.03,166.06 L130.49,163.39 L131.95,160.73 L133.41,158.07 L134.87,155.42 L136.33,152.77 L137.79,150.13 L139.25,147.49 L140.71,144.87 L142.17,142.25 L143.63,139.63 L145.09,137.03 L146.55,134.44 L148.01,131.85 L149.47,129.28 L150.93,126.71 L152.39,124.16 L153.85,121.62 L155.31,119.1 L156.77,116.59 L158.23,114.09 L159.69,111.61 L161.15,109.15 L162.61,106.7 L164.07,104.28 L165.53,101.88 L166.99,99.5 L168.45,97.14 L169.91,94.81 L171.37,92.5 L172.83,90.23 L174.29,87.98 L175.75,85.77 L177.21,83.59 L178.67,81.44 L180.13,79.33 L181.59,77.27 L183.05,75.24 L184.51,73.25 L185.97,71.32 L187.43,69.43 L188.89,67.59 L190.35,65.8 L191.81,64.07 L193.27,62.39 L194.73,60.77 L196.2,59.22 L197.66,57.72 L199.12,56.3 L200.58,54.94 L202.04,53.65 L203.5,52.43 L204.96,51.29 L206.42,50.22 L207.88,49.22 L209.34,48.31 L210.8,47.47 L212.26,46.71 L213.72,46.04 L215.18,45.44 L216.64,44.93 L218.1,44.5 L219.56,44.15 L221.02,43.88 L222.48,43.7 L223.94,43.59 L225.4,43.57 L226.86,43.62 L228.32,43.75 L229.78,43.96 L231.24,44.24 L232.7,44.6 L234.16,45.02 L235.62,45.52 L237.08,46.08 L238.54,46.71 L240,47.41 L241.46,48.16 L242.92,48.97 L244.38,49.84 L245.84,50.77 L247.3,51.74 L248.76,52.77 L250.22,53.85 L251.68,54.97 L253.14,56.13 L254.6,57.33 L256.06,58.58 L257.52,59.86 L258.98,61.18 L260.44,62.53 L261.9,63.91 L263.36,65.32 L264.82,66.76 L266.28,68.23 L267.74,69.72 L269.2,71.23 L270.66,72.77 L272.13,74.33 L273.59,75.91 L275.05,77.51 L276.51,79.12 L277.97,80.75" fill="none" stroke="#f68d45" stroke-width="1.45" stroke-linejoin="round"/>
<path d="M277.97,80.75 L279.54,82.52 L281.1,84.31 L282.67,86.11 L284.24,87.93 L285.81,89.76 L287.38,91.6 L288.95,93.45 L290.52,95.32 L292.09,97.19 L293.66,99.07 L295.23,100.97 L296.8,102.87 L298.37,104.77 L299.94,106.69 L301.51,108.61 L303.08,110.54 L304.65,112.47 L306.22,114.41 L307.78,116.35 L309.35,118.3 L310.92,120.25 L312.49,122.2 L314.06,124.16 L315.63,126.12 L317.2,128.09 L318.77,130.06 L320.34,132.03 L321.91,134 L323.48,135.97 L325.05,137.95 L326.62,139.93 L328.19,141.91 L329.76,143.89 L331.33,145.88 L332.89,147.86 L334.46,149.85 L336.03,151.84 L337.6,153.83 L339.17,155.82" fill="none" stroke="#f68d45" stroke-width="1.55" stroke-dasharray="4.8 2.6"/>
<path d="M45.79,319.57 L47.26,316.84 L48.72,314.11 L50.18,311.39 L51.64,308.66 L53.1,305.93 L54.56,303.21 L56.02,300.48 L57.48,297.76 L58.94,295.03 L60.4,292.31 L61.86,289.58 L63.32,286.86 L64.78,284.13 L66.24,281.4 L67.7,278.68 L69.16,275.96 L70.62,273.23 L72.08,270.51 L73.54,267.78 L75,265.06 L76.46,262.33 L77.92,259.61 L79.38,256.89 L80.84,254.16 L82.3,251.44 L83.76,248.72 L85.22,246 L86.68,243.28 L88.14,240.56 L89.6,237.83 L91.06,235.11 L92.52,232.39 L93.98,229.68 L95.44,226.96 L96.9,224.24 L98.36,221.52 L99.82,218.81 L101.28,216.09 L102.74,213.38 L104.2,210.66 L105.66,207.95 L107.12,205.24 L108.58,202.53 L110.04,199.82 L111.5,197.12 L112.96,194.41 L114.42,191.71 L115.88,189.01 L117.34,186.31 L118.8,183.61 L120.26,180.91 L121.73,178.22 L123.19,175.53 L124.65,172.84 L126.11,170.16 L127.57,167.48 L129.03,164.8 L130.49,162.13 L131.95,159.46 L133.41,156.79 L134.87,154.13 L136.33,151.48 L137.79,148.83 L139.25,146.19 L140.71,143.55 L142.17,140.92 L143.63,138.3 L145.09,135.69 L146.55,133.08 L148.01,130.49 L149.47,127.9 L150.93,125.33 L152.39,122.76 L153.85,120.21 L155.31,117.68 L156.77,115.15 L158.23,112.65 L159.69,110.16 L161.15,107.68 L162.61,105.23 L164.07,102.8 L165.53,100.38 L166.99,97.99 L168.45,95.63 L169.91,93.29 L171.37,90.98 L172.83,88.7 L174.29,86.45 L175.75,84.23 L177.21,82.05 L178.67,79.91 L180.13,77.8 L181.59,75.74 L183.05,73.72 L184.51,71.75 L185.97,69.83 L187.43,67.96 L188.89,66.14 L190.35,64.38 L191.81,62.68 L193.27,61.04 L194.73,59.46 L196.2,57.95 L197.66,56.5 L199.12,55.13 L200.58,53.83 L202.04,52.6 L203.5,51.45 L204.96,50.37 L206.42,49.38 L207.88,48.47 L209.34,47.63 L210.8,46.88 L212.26,46.21 L213.72,45.63 L215.18,45.13 L216.64,44.71 L218.1,44.38 L219.56,44.12 L221.02,43.95 L222.48,43.86 L223.94,43.85 L225.4,43.92 L226.86,44.06 L228.32,44.28 L229.78,44.57 L231.24,44.93 L232.7,45.36 L234.16,45.85 L235.62,46.41 L237.08,47.03 L238.54,47.7 L240,48.44 L241.46,49.23 L242.92,50.06 L244.38,50.95 L245.84,51.89 L247.3,52.87 L248.76,53.89 L250.22,54.95 L251.68,56.05 L253.14,57.18 L254.6,58.35 L256.06,59.55 L257.52,60.78 L258.98,62.04 L260.44,63.32 L261.9,64.63 L263.36,65.96 L264.82,67.31 L266.28,68.69 L267.74,70.08 L269.2,71.49 L270.66,72.92 L272.13,74.36 L273.59,75.81 L275.05,77.28 L276.51,78.77 L277.97,80.26" fill="none" stroke="#f0804e" stroke-width="1.45" stroke-linejoin="round"/>
<path d="M277.97,80.26 L279.54,81.88 L281.1,83.51 L282.67,85.15 L284.24,86.8 L285.81,88.46 L287.38,90.13 L288.95,91.8 L290.52,93.49 L292.09,95.18 L293.66,96.87 L295.23,98.57 L296.8,100.28 L298.37,101.99 L299.94,103.71 L301.51,105.43 L303.08,107.16 L304.65,108.89 L306.22,110.62 L307.78,112.35 L309.35,114.09 L310.92,115.83 L312.49,117.57 L314.06,119.32 L315.63,121.06 L317.2,122.81 L318.77,124.56 L320.34,126.32 L321.91,128.07 L323.48,129.82 L325.05,131.58 L326.62,133.34 L328.19,135.09 L329.76,136.85 L331.33,138.61 L332.89,140.38 L334.46,142.14 L336.03,143.9 L337.6,145.66 L339.17,147.43" fill="none" stroke="#f0804e" stroke-width="1.55" stroke-dasharray="4.8 2.6"/>
<path d="M45.79,310.74 L47.26,308.06 L48.72,305.38 L50.18,302.7 L51.64,300.02 L53.1,297.35 L54.56,294.67 L56.02,291.99 L57.48,289.31 L58.94,286.64 L60.4,283.96 L61.86,281.28 L63.32,278.6 L64.78,275.93 L66.24,273.25 L67.7,270.58 L69.16,267.9 L70.62,265.23 L72.08,262.55 L73.54,259.88 L75,257.2 L76.46,254.53 L77.92,251.86 L79.38,249.19 L80.84,246.51 L82.3,243.84 L83.76,241.17 L85.22,238.5 L86.68,235.83 L88.14,233.17 L89.6,230.5 L91.06,227.83 L92.52,225.17 L93.98,222.5 L95.44,219.84 L96.9,217.18 L98.36,214.52 L99.82,211.86 L101.28,209.2 L102.74,206.55 L104.2,203.89 L105.66,201.24 L107.12,198.59 L108.58,195.94 L110.04,193.29 L111.5,190.65 L112.96,188.01 L114.42,185.37 L115.88,182.74 L117.34,180.1 L118.8,177.48 L120.26,174.85 L121.73,172.23 L123.19,169.61 L124.65,167 L126.11,164.39 L127.57,161.79 L129.03,159.19 L130.49,156.6 L131.95,154.01 L133.41,151.43 L134.87,148.86 L136.33,146.3 L137.79,143.74 L139.25,141.19 L140.71,138.65 L142.17,136.12 L143.63,133.6 L145.09,131.09 L146.55,128.59 L148.01,126.11 L149.47,123.64 L150.93,121.18 L152.39,118.74 L153.85,116.31 L155.31,113.9 L156.77,111.51 L158.23,109.14 L159.69,106.78 L161.15,104.45 L162.61,102.14 L164.07,99.86 L165.53,97.6 L166.99,95.36 L168.45,93.16 L169.91,90.98 L171.37,88.84 L172.83,86.72 L174.29,84.65 L175.75,82.61 L177.21,80.61 L178.67,78.64 L180.13,76.72 L181.59,74.85 L183.05,73.02 L184.51,71.23 L185.97,69.5 L187.43,67.82 L188.89,66.19 L190.35,64.62 L191.81,63.11 L193.27,61.65 L194.73,60.26 L196.2,58.93 L197.66,57.66 L199.12,56.46 L200.58,55.33 L202.04,54.27 L203.5,53.27 L204.96,52.35 L206.42,51.5 L207.88,50.73 L209.34,50.03 L210.8,49.4 L212.26,48.85 L213.72,48.37 L215.18,47.97 L216.64,47.64 L218.1,47.39 L219.56,47.21 L221.02,47.1 L222.48,47.07 L223.94,47.1 L225.4,47.21 L226.86,47.39 L228.32,47.63 L229.78,47.94 L231.24,48.31 L232.7,48.75 L234.16,49.25 L235.62,49.8 L237.08,50.42 L238.54,51.08 L240,51.81 L241.46,52.58 L242.92,53.4 L244.38,54.27 L245.84,55.19 L247.3,56.15 L248.76,57.15 L250.22,58.19 L251.68,59.27 L253.14,60.38 L254.6,61.53 L256.06,62.71 L257.52,63.92 L258.98,65.17 L260.44,66.44 L261.9,67.73 L263.36,69.05 L264.82,70.4 L266.28,71.76 L267.74,73.15 L269.2,74.56 L270.66,75.99 L272.13,77.43 L273.59,78.89 L275.05,80.37 L276.51,81.86 L277.97,83.36" fill="none" stroke="#da5a6a" stroke-width="1.45" stroke-linejoin="round"/>
<path d="M277.97,83.36 L279.54,85 L281.1,86.64 L282.67,88.3 L284.24,89.97 L285.81,91.66 L287.38,93.35 L288.95,95.05 L290.52,96.77 L292.09,98.49 L293.66,100.22 L295.23,101.96 L296.8,103.7 L298.37,105.45 L299.94,107.21 L301.51,108.97 L303.08,110.74 L304.65,112.51 L306.22,114.29 L307.78,116.07 L309.35,117.86 L310.92,119.65 L312.49,121.44 L314.06,123.24 L315.63,125.04 L317.2,126.84 L318.77,128.65 L320.34,130.45 L321.91,132.26 L323.48,134.07 L325.05,135.89 L326.62,137.7 L328.19,139.52 L329.76,141.34 L331.33,143.16 L332.89,144.98 L334.46,146.8 L336.03,148.63 L337.6,150.45 L339.17,152.28" fill="none" stroke="#da5a6a" stroke-width="1.55" stroke-dasharray="4.8 2.6"/>
<path d="M45.79,329.97 L47.26,327.19 L48.72,324.41 L50.18,321.63 L51.64,318.84 L53.1,316.06 L54.56,313.28 L56.02,310.5 L57.48,307.72 L58.94,304.94 L60.4,302.16 L61.86,299.38 L63.32,296.6 L64.78,293.82 L66.24,291.04 L67.7,288.26 L69.16,285.48 L70.62,282.7 L72.08,279.92 L73.54,277.15 L75,274.37 L76.46,271.59 L77.92,268.81 L79.38,266.04 L80.84,263.26 L82.3,260.49 L83.76,257.71 L85.22,254.94 L86.68,252.17 L88.14,249.39 L89.6,246.62 L91.06,243.85 L92.52,241.08 L93.98,238.31 L95.44,235.54 L96.9,232.78 L98.36,230.01 L99.82,227.25 L101.28,224.48 L102.74,221.72 L104.2,218.96 L105.66,216.2 L107.12,213.45 L108.58,210.69 L110.04,207.94 L111.5,205.19 L112.96,202.44 L114.42,199.7 L115.88,196.96 L117.34,194.22 L118.8,191.48 L120.26,188.75 L121.73,186.02 L123.19,183.3 L124.65,180.58 L126.11,177.86 L127.57,175.15 L129.03,172.45 L130.49,169.75 L131.95,167.05 L133.41,164.37 L134.87,161.69 L136.33,159.01 L137.79,156.35 L139.25,153.69 L140.71,151.04 L142.17,148.41 L143.63,145.78 L145.09,143.16 L146.55,140.56 L148.01,137.97 L149.47,135.39 L150.93,132.83 L152.39,130.28 L153.85,127.75 L155.31,125.24 L156.77,122.74 L158.23,120.27 L159.69,117.81 L161.15,115.38 L162.61,112.97 L164.07,110.59 L165.53,108.23 L166.99,105.91 L168.45,103.61 L169.91,101.35 L171.37,99.11 L172.83,96.92 L174.29,94.76 L175.75,92.64 L177.21,90.56 L178.67,88.53 L180.13,86.54 L181.59,84.6 L183.05,82.71 L184.51,80.87 L185.97,79.09 L187.43,77.36 L188.89,75.69 L190.35,74.08 L191.81,72.54 L193.27,71.06 L194.73,69.65 L196.2,68.3 L197.66,67.03 L199.12,65.83 L200.58,64.7 L202.04,63.65 L203.5,62.67 L204.96,61.78 L206.42,60.96 L207.88,60.22 L209.34,59.56 L210.8,58.98 L212.26,58.48 L213.72,58.06 L215.18,57.72 L216.64,57.46 L218.1,57.27 L219.56,57.17 L221.02,57.14 L222.48,57.19 L223.94,57.31 L225.4,57.5 L226.86,57.76 L228.32,58.1 L229.78,58.49 L231.24,58.96 L232.7,59.49 L234.16,60.07 L235.62,60.72 L237.08,61.42 L238.54,62.18 L240,62.99 L241.46,63.85 L242.92,64.76 L244.38,65.71 L245.84,66.71 L247.3,67.75 L248.76,68.82 L250.22,69.94 L251.68,71.09 L253.14,72.27 L254.6,73.49 L256.06,74.73 L257.52,76.01 L258.98,77.31 L260.44,78.63 L261.9,79.98 L263.36,81.36 L264.82,82.75 L266.28,84.16 L267.74,85.59 L269.2,87.04 L270.66,88.51 L272.13,89.99 L273.59,91.49 L275.05,93 L276.51,94.52 L277.97,96.05" fill="none" stroke="#9511a1" stroke-width="1.45" stroke-linejoin="round"/>
<path d="M277.97,96.05 L279.54,97.71 L281.1,99.38 L282.67,101.07 L284.24,102.76 L285.81,104.47 L287.38,106.18 L288.95,107.9 L290.52,109.63 L292.09,111.37 L293.66,113.11 L295.23,114.86 L296.8,116.61 L298.37,118.37 L299.94,120.14 L301.51,121.91 L303.08,123.68 L304.65,125.46 L306.22,127.24 L307.78,129.03 L309.35,130.82 L310.92,132.61 L312.49,134.4 L314.06,136.2 L315.63,138 L317.2,139.8 L318.77,141.6 L320.34,143.4 L321.91,145.21 L323.48,147.02 L325.05,148.83 L326.62,150.64 L328.19,152.45 L329.76,154.26 L331.33,156.08 L332.89,157.89 L334.46,159.71 L336.03,161.53 L337.6,163.35 L339.17,165.16" fill="none" stroke="#9511a1" stroke-width="1.55" stroke-dasharray="4.8 2.6"/>
<path d="M45.79,343.69 L47.26,340.85 L48.72,338.01 L50.18,335.18 L51.64,332.34 L53.1,329.5 L54.56,326.67 L56.02,323.83 L57.48,321 L58.94,318.16 L60.4,315.33 L61.86,312.5 L63.32,309.66 L64.78,306.83 L66.24,304 L67.7,301.17 L69.16,298.33 L70.62,295.5 L72.08,292.67 L73.54,289.84 L75,287.01 L76.46,284.19 L77.92,281.36 L79.38,278.53 L80.84,275.71 L82.3,272.88 L83.76,270.06 L85.22,267.24 L86.68,264.42 L88.14,261.6 L89.6,258.78 L91.06,255.96 L92.52,253.15 L93.98,250.33 L95.44,247.52 L96.9,244.71 L98.36,241.9 L99.82,239.1 L101.28,236.29 L102.74,233.49 L104.2,230.7 L105.66,227.9 L107.12,225.11 L108.58,222.32 L110.04,219.53 L111.5,216.75 L112.96,213.97 L114.42,211.2 L115.88,208.43 L117.34,205.66 L118.8,202.9 L120.26,200.15 L121.73,197.4 L123.19,194.65 L124.65,191.92 L126.11,189.19 L127.57,186.46 L129.03,183.75 L130.49,181.04 L131.95,178.34 L133.41,175.65 L134.87,172.97 L136.33,170.31 L137.79,167.65 L139.25,165 L140.71,162.37 L142.17,159.75 L143.63,157.14 L145.09,154.55 L146.55,151.98 L148.01,149.42 L149.47,146.88 L150.93,144.36 L152.39,141.86 L153.85,139.38 L155.31,136.92 L156.77,134.49 L158.23,132.08 L159.69,129.7 L161.15,127.34 L162.61,125.01 L164.07,122.72 L165.53,120.45 L166.99,118.23 L168.45,116.03 L169.91,113.87 L171.37,111.76 L172.83,109.68 L174.29,107.64 L175.75,105.65 L177.21,103.71 L178.67,101.81 L180.13,99.96 L181.59,98.17 L183.05,96.43 L184.51,94.74 L185.97,93.11 L187.43,91.54 L188.89,90.04 L190.35,88.59 L191.81,87.21 L193.27,85.89 L194.73,84.64 L196.2,83.46 L197.66,82.35 L199.12,81.31 L200.58,80.34 L202.04,79.44 L203.5,78.61 L204.96,77.86 L206.42,77.19 L207.88,76.59 L209.34,76.06 L210.8,75.6 L212.26,75.22 L213.72,74.92 L215.18,74.69 L216.64,74.53 L218.1,74.44 L219.56,74.42 L221.02,74.47 L222.48,74.59 L223.94,74.77 L225.4,75.02 L226.86,75.34 L228.32,75.72 L229.78,76.15 L231.24,76.65 L232.7,77.2 L234.16,77.81 L235.62,78.48 L237.08,79.19 L238.54,79.95 L240,80.76 L241.46,81.62 L242.92,82.52 L244.38,83.47 L245.84,84.45 L247.3,85.47 L248.76,86.53 L250.22,87.63 L251.68,88.75 L253.14,89.91 L254.6,91.11 L256.06,92.33 L257.52,93.57 L258.98,94.85 L260.44,96.14 L261.9,97.46 L263.36,98.81 L264.82,100.17 L266.28,101.56 L267.74,102.96 L269.2,104.38 L270.66,105.82 L272.13,107.27 L273.59,108.74 L275.05,110.22 L276.51,111.72 L277.97,113.22" fill="none" stroke="#6600a7" stroke-width="1.45" stroke-linejoin="round"/>
<path d="M277.97,113.22 L279.54,114.86 L281.1,116.5 L282.67,118.16 L284.24,119.83 L285.81,121.51 L287.38,123.2 L288.95,124.9 L290.52,126.61 L292.09,128.32 L293.66,130.05 L295.23,131.78 L296.8,133.51 L298.37,135.26 L299.94,137 L301.51,138.76 L303.08,140.52 L304.65,142.28 L306.22,144.05 L307.78,145.82 L309.35,147.6 L310.92,149.37 L312.49,151.16 L314.06,152.94 L315.63,154.73 L317.2,156.52 L318.77,158.32 L320.34,160.11 L321.91,161.91 L323.48,163.71 L325.05,165.51 L326.62,167.31 L328.19,169.12 L329.76,170.93 L331.33,172.74 L332.89,174.55 L334.46,176.36 L336.03,178.17 L337.6,179.98 L339.17,181.8" fill="none" stroke="#6600a7" stroke-width="1.55" stroke-dasharray="4.8 2.6"/>
<path d="M45.79,348.85 L47.26,345.99 L48.72,343.13 L50.18,340.27 L51.64,337.41 L53.1,334.56 L54.56,331.7 L56.02,328.84 L57.48,325.99 L58.94,323.14 L60.4,320.28 L61.86,317.43 L63.32,314.58 L64.78,311.74 L66.24,308.89 L67.7,306.04 L69.16,303.2 L70.62,300.36 L72.08,297.52 L73.54,294.68 L75,291.84 L76.46,289 L77.92,286.17 L79.38,283.34 L80.84,280.51 L82.3,277.68 L83.76,274.86 L85.22,272.04 L86.68,269.22 L88.14,266.41 L89.6,263.59 L91.06,260.79 L92.52,257.98 L93.98,255.18 L95.44,252.38 L96.9,249.59 L98.36,246.8 L99.82,244.02 L101.28,241.24 L102.74,238.47 L104.2,235.7 L105.66,232.93 L107.12,230.18 L108.58,227.43 L110.04,224.69 L111.5,221.95 L112.96,219.22 L114.42,216.5 L115.88,213.79 L117.34,211.09 L118.8,208.39 L120.26,205.71 L121.73,203.03 L123.19,200.37 L124.65,197.72 L126.11,195.08 L127.57,192.45 L129.03,189.84 L130.49,187.24 L131.95,184.65 L133.41,182.08 L134.87,179.53 L136.33,176.99 L137.79,174.47 L139.25,171.97 L140.71,169.49 L142.17,167.02 L143.63,164.58 L145.09,162.17 L146.55,159.77 L148.01,157.4 L149.47,155.05 L150.93,152.73 L152.39,150.44 L153.85,148.18 L155.31,145.95 L156.77,143.74 L158.23,141.57 L159.69,139.44 L161.15,137.34 L162.61,135.27 L164.07,133.25 L165.53,131.26 L166.99,129.31 L168.45,127.4 L169.91,125.54 L171.37,123.72 L172.83,121.95 L174.29,120.22 L175.75,118.54 L177.21,116.91 L178.67,115.34 L180.13,113.81 L181.59,112.34 L183.05,110.92 L184.51,109.56 L185.97,108.26 L187.43,107.01 L188.89,105.82 L190.35,104.69 L191.81,103.62 L193.27,102.61 L194.73,101.67 L196.2,100.78 L197.66,99.96 L199.12,99.2 L200.58,98.51 L202.04,97.87 L203.5,97.3 L204.96,96.8 L206.42,96.36 L207.88,95.98 L209.34,95.66 L210.8,95.41 L212.26,95.22 L213.72,95.09 L215.18,95.02 L216.64,95.01 L218.1,95.06 L219.56,95.16 L221.02,95.33 L222.48,95.55 L223.94,95.82 L225.4,96.15 L226.86,96.53 L228.32,96.97 L229.78,97.45 L231.24,97.98 L232.7,98.56 L234.16,99.19 L235.62,99.86 L237.08,100.58 L238.54,101.33 L240,102.13 L241.46,102.97 L242.92,103.85 L244.38,104.76 L245.84,105.71 L247.3,106.69 L248.76,107.71 L250.22,108.75 L251.68,109.83 L253.14,110.94 L254.6,112.07 L256.06,113.24 L257.52,114.42 L258.98,115.64 L260.44,116.87 L261.9,118.13 L263.36,119.41 L264.82,120.72 L266.28,122.04 L267.74,123.38 L269.2,124.74 L270.66,126.11 L272.13,127.5 L273.59,128.91 L275.05,130.33 L276.51,131.77 L277.97,133.22" fill="none" stroke="#4c02a1" stroke-width="1.45" stroke-linejoin="round"/>
<path d="M277.97,133.22 L279.54,134.79 L281.1,136.38 L282.67,137.98 L284.24,139.59 L285.81,141.22 L287.38,142.85 L288.95,144.5 L290.52,146.16 L292.09,147.82 L293.66,149.5 L295.23,151.18 L296.8,152.87 L298.37,154.57 L299.94,156.28 L301.51,158 L303.08,159.72 L304.65,161.44 L306.22,163.17 L307.78,164.91 L309.35,166.66 L310.92,168.4 L312.49,170.16 L314.06,171.91 L315.63,173.67 L317.2,175.44 L318.77,177.21 L320.34,178.98 L321.91,180.75 L323.48,182.53 L325.05,184.31 L326.62,186.09 L328.19,187.88 L329.76,189.67 L331.33,191.46 L332.89,193.25 L334.46,195.05 L336.03,196.85 L337.6,198.64 L339.17,200.44" fill="none" stroke="#4c02a1" stroke-width="1.55" stroke-dasharray="4.8 2.6"/>
<path d="M45.79,351.1 L47.26,348.44 L48.72,345.77 L50.18,343.11 L51.64,340.45 L53.1,337.79 L54.56,335.13 L56.02,332.47 L57.48,329.81 L58.94,327.15 L60.4,324.5 L61.86,321.84 L63.32,319.19 L64.78,316.54 L66.24,313.89 L67.7,311.24 L69.16,308.59 L70.62,305.94 L72.08,303.29 L73.54,300.65 L75,298.01 L76.46,295.37 L77.92,292.73 L79.38,290.09 L80.84,287.46 L82.3,284.83 L83.76,282.2 L85.22,279.57 L86.68,276.95 L88.14,274.33 L89.6,271.71 L91.06,269.1 L92.52,266.49 L93.98,263.88 L95.44,261.28 L96.9,258.68 L98.36,256.08 L99.82,253.49 L101.28,250.9 L102.74,248.32 L104.2,245.74 L105.66,243.17 L107.12,240.6 L108.58,238.05 L110.04,235.49 L111.5,232.94 L112.96,230.4 L114.42,227.87 L115.88,225.35 L117.34,222.83 L118.8,220.32 L120.26,217.82 L121.73,215.33 L123.19,212.85 L124.65,210.38 L126.11,207.92 L127.57,205.47 L129.03,203.04 L130.49,200.61 L131.95,198.2 L133.41,195.8 L134.87,193.42 L136.33,191.06 L137.79,188.7 L139.25,186.37 L140.71,184.05 L142.17,181.75 L143.63,179.47 L145.09,177.21 L146.55,174.97 L148.01,172.75 L149.47,170.56 L150.93,168.39 L152.39,166.24 L153.85,164.12 L155.31,162.02 L156.77,159.95 L158.23,157.92 L159.69,155.91 L161.15,153.93 L162.61,151.98 L164.07,150.07 L165.53,148.19 L166.99,146.35 L168.45,144.55 L169.91,142.78 L171.37,141.05 L172.83,139.37 L174.29,137.72 L175.75,136.12 L177.21,134.57 L178.67,133.06 L180.13,131.59 L181.59,130.17 L183.05,128.81 L184.51,127.49 L185.97,126.22 L187.43,125.01 L188.89,123.85 L190.35,122.74 L191.81,121.69 L193.27,120.69 L194.73,119.75 L196.2,118.87 L197.66,118.04 L199.12,117.27 L200.58,116.56 L202.04,115.91 L203.5,115.32 L204.96,114.79 L206.42,114.31 L207.88,113.9 L209.34,113.55 L210.8,113.25 L212.26,113.01 L213.72,112.83 L215.18,112.71 L216.64,112.65 L218.1,112.65 L219.56,112.7 L221.02,112.8 L222.48,112.96 L223.94,113.18 L225.4,113.45 L226.86,113.77 L228.32,114.14 L229.78,114.56 L231.24,115.03 L232.7,115.55 L234.16,116.11 L235.62,116.72 L237.08,117.38 L238.54,118.08 L240,118.82 L241.46,119.6 L242.92,120.42 L244.38,121.28 L245.84,122.18 L247.3,123.11 L248.76,124.07 L250.22,125.07 L251.68,126.11 L253.14,127.17 L254.6,128.26 L256.06,129.39 L257.52,130.54 L258.98,131.71 L260.44,132.91 L261.9,134.14 L263.36,135.39 L264.82,136.67 L266.28,137.96 L267.74,139.28 L269.2,140.61 L270.66,141.97 L272.13,143.34 L273.59,144.73 L275.05,146.13 L276.51,147.56 L277.97,148.99" fill="none" stroke="#0d0887" stroke-width="1.45" stroke-linejoin="round"/>
<path d="M277.97,148.99 L279.54,150.56 L281.1,152.13 L282.67,153.72 L284.24,155.33 L285.81,156.95 L287.38,158.58 L288.95,160.23 L290.52,161.89 L292.09,163.55 L293.66,165.23 L295.23,166.92 L296.8,168.62 L298.37,170.33 L299.94,172.04 L301.51,173.76 L303.08,175.49 L304.65,177.23 L306.22,178.98 L307.78,180.73 L309.35,182.49 L310.92,184.25 L312.49,186.02 L314.06,187.79 L315.63,189.57 L317.2,191.35 L318.77,193.14 L320.34,194.93 L321.91,196.73 L323.48,198.52 L325.05,200.33 L326.62,202.13 L328.19,203.94 L329.76,205.75 L331.33,207.57 L332.89,209.39 L334.46,211.2 L336.03,213.03 L337.6,214.85 L339.17,216.68" fill="none" stroke="#0d0887" stroke-width="1.55" stroke-dasharray="4.8 2.6"/>
</g>
<defs><linearGradient id="fade" x1="0" y1="0" x2="0" y2="1"><stop offset="0" stop-color="#fff" stop-opacity="0"/><stop offset="0.35" stop-color="#fff" stop-opacity="0.9"/><stop offset="1" stop-color="#fff" stop-opacity="0.92"/></linearGradient></defs>
<rect x="183" y="212" width="147.5" height="76.9" fill="url(#fade)" />
<rect x="191.3" y="272.3" width="5.2" height="7.9" fill="#0d0887" />
<rect x="196.2" y="272.3" width="3.3" height="7.9" fill="#310597" />
<rect x="199.2" y="272.3" width="4.9" height="7.9" fill="#4c02a1" />
<rect x="203.8" y="272.3" width="6" height="7.9" fill="#6600a7" />
<rect x="209.5" y="272.3" width="4.9" height="7.9" fill="#7e03a8" />
<rect x="214.1" y="272.3" width="5.9" height="7.9" fill="#9511a1" />
<rect x="219.7" y="272.3" width="6.9" height="7.9" fill="#aa2395" />
<rect x="226.3" y="272.3" width="7.5" height="7.9" fill="#bc3587" />
<rect x="233.5" y="272.3" width="7.9" height="7.9" fill="#cc4778" />
<rect x="241.1" y="272.3" width="9" height="7.9" fill="#da5a6a" />
<rect x="249.8" y="272.3" width="9.6" height="7.9" fill="#e66c5c" />
<rect x="259.1" y="272.3" width="10.5" height="7.9" fill="#f0804e" />
<rect x="269.3" y="272.3" width="11.5" height="7.9" fill="#f89540" />
<rect x="280.5" y="272.3" width="12.7" height="7.9" fill="#fdac33" />
<rect x="292.9" y="272.3" width="14.5" height="7.9" fill="#fdc527" />
<rect x="307.1" y="272.3" width="16.2" height="7.9" fill="#f8df25" />
<rect x="191.3" y="272.3" width="131.7" height="7.9" fill="none" stroke="#555" stroke-width="0.8"/>
<line x1="191.3" y1="268.8" x2="191.3" y2="272.3" stroke="#444" stroke-width="0.9" />
<text x="191.3" y="263.3" font-size="9" text-anchor="middle" fill="#222" >0</text>
<line x1="223.4" y1="268.8" x2="223.4" y2="272.3" stroke="#444" stroke-width="0.9" />
<text x="223.4" y="263.3" font-size="9" text-anchor="middle" fill="#222" >1</text>
<line x1="255.5" y1="268.8" x2="255.5" y2="272.3" stroke="#444" stroke-width="0.9" />
<text x="255.5" y="263.3" font-size="9" text-anchor="middle" fill="#222" >2</text>
<line x1="287.6" y1="268.8" x2="287.6" y2="272.3" stroke="#444" stroke-width="0.9" />
<text x="287.6" y="263.3" font-size="9" text-anchor="middle" fill="#222" >3</text>
<line x1="319.7" y1="268.8" x2="319.7" y2="272.3" stroke="#444" stroke-width="0.9" />
<text x="319.7" y="263.3" font-size="9" text-anchor="middle" fill="#222" >4</text>
<text x="257" y="248.5" font-size="10" text-anchor="middle" fill="#222" font-style="italic">z</text>
<line x1="52.5" y1="16.4" x2="332.6" y2="16.4" stroke="#aaa" stroke-width="1" />
<line x1="332.6" y1="16.4" x2="332.6" y2="289.4" stroke="#aaa" stroke-width="1" />
<line x1="52.5" y1="15.9" x2="52.5" y2="289.9" stroke="#4a4a4a" stroke-width="1" />
<line x1="52" y1="289.4" x2="332.6" y2="289.4" stroke="#8a8a8a" stroke-width="1.2" />
<line x1="49.2" y1="289.97" x2="52.5" y2="289.97" stroke="#666" stroke-width="0.9" />
<line x1="49.2" y1="284.67" x2="52.5" y2="284.67" stroke="#666" stroke-width="0.9" />
<line x1="49.2" y1="280.34" x2="52.5" y2="280.34" stroke="#666" stroke-width="0.9" />
<line x1="49.2" y1="276.67" x2="52.5" y2="276.67" stroke="#666" stroke-width="0.9" />
<line x1="49.2" y1="273.5" x2="52.5" y2="273.5" stroke="#666" stroke-width="0.9" />
<line x1="49.2" y1="270.7" x2="52.5" y2="270.7" stroke="#666" stroke-width="0.9" />
<line x1="47" y1="268.2" x2="52.5" y2="268.2" stroke="#555" stroke-width="1" />
<line x1="49.2" y1="251.73" x2="52.5" y2="251.73" stroke="#666" stroke-width="0.9" />
<line x1="49.2" y1="242.1" x2="52.5" y2="242.1" stroke="#666" stroke-width="0.9" />
<line x1="49.2" y1="235.27" x2="52.5" y2="235.27" stroke="#666" stroke-width="0.9" />
<line x1="49.2" y1="229.97" x2="52.5" y2="229.97" stroke="#666" stroke-width="0.9" />
<line x1="49.2" y1="225.64" x2="52.5" y2="225.64" stroke="#666" stroke-width="0.9" />
<line x1="49.2" y1="221.97" x2="52.5" y2="221.97" stroke="#666" stroke-width="0.9" />
<line x1="49.2" y1="218.8" x2="52.5" y2="218.8" stroke="#666" stroke-width="0.9" />
<line x1="49.2" y1="216" x2="52.5" y2="216" stroke="#666" stroke-width="0.9" />
<line x1="47" y1="213.5" x2="52.5" y2="213.5" stroke="#555" stroke-width="1" />
<line x1="49.2" y1="197.03" x2="52.5" y2="197.03" stroke="#666" stroke-width="0.9" />
<line x1="49.2" y1="187.4" x2="52.5" y2="187.4" stroke="#666" stroke-width="0.9" />
<line x1="49.2" y1="180.57" x2="52.5" y2="180.57" stroke="#666" stroke-width="0.9" />
<line x1="49.2" y1="175.27" x2="52.5" y2="175.27" stroke="#666" stroke-width="0.9" />
<line x1="49.2" y1="170.94" x2="52.5" y2="170.94" stroke="#666" stroke-width="0.9" />
<line x1="49.2" y1="167.27" x2="52.5" y2="167.27" stroke="#666" stroke-width="0.9" />
<line x1="49.2" y1="164.1" x2="52.5" y2="164.1" stroke="#666" stroke-width="0.9" />
<line x1="49.2" y1="161.3" x2="52.5" y2="161.3" stroke="#666" stroke-width="0.9" />
<line x1="47" y1="158.8" x2="52.5" y2="158.8" stroke="#555" stroke-width="1" />
<line x1="49.2" y1="142.33" x2="52.5" y2="142.33" stroke="#666" stroke-width="0.9" />
<line x1="49.2" y1="132.7" x2="52.5" y2="132.7" stroke="#666" stroke-width="0.9" />
<line x1="49.2" y1="125.87" x2="52.5" y2="125.87" stroke="#666" stroke-width="0.9" />
<line x1="49.2" y1="120.57" x2="52.5" y2="120.57" stroke="#666" stroke-width="0.9" />
<line x1="49.2" y1="116.24" x2="52.5" y2="116.24" stroke="#666" stroke-width="0.9" />
<line x1="49.2" y1="112.57" x2="52.5" y2="112.57" stroke="#666" stroke-width="0.9" />
<line x1="49.2" y1="109.4" x2="52.5" y2="109.4" stroke="#666" stroke-width="0.9" />
<line x1="49.2" y1="106.6" x2="52.5" y2="106.6" stroke="#666" stroke-width="0.9" />
<line x1="47" y1="104.1" x2="52.5" y2="104.1" stroke="#555" stroke-width="1" />
<line x1="49.2" y1="87.63" x2="52.5" y2="87.63" stroke="#666" stroke-width="0.9" />
<line x1="49.2" y1="78" x2="52.5" y2="78" stroke="#666" stroke-width="0.9" />
<line x1="49.2" y1="71.17" x2="52.5" y2="71.17" stroke="#666" stroke-width="0.9" />
<line x1="49.2" y1="65.87" x2="52.5" y2="65.87" stroke="#666" stroke-width="0.9" />
<line x1="49.2" y1="61.54" x2="52.5" y2="61.54" stroke="#666" stroke-width="0.9" />
<line x1="49.2" y1="57.87" x2="52.5" y2="57.87" stroke="#666" stroke-width="0.9" />
<line x1="49.2" y1="54.7" x2="52.5" y2="54.7" stroke="#666" stroke-width="0.9" />
<line x1="49.2" y1="51.9" x2="52.5" y2="51.9" stroke="#666" stroke-width="0.9" />
<line x1="47" y1="49.4" x2="52.5" y2="49.4" stroke="#555" stroke-width="1" />
<line x1="49.2" y1="32.93" x2="52.5" y2="32.93" stroke="#666" stroke-width="0.9" />
<line x1="49.2" y1="23.3" x2="52.5" y2="23.3" stroke="#666" stroke-width="0.9" />
<line x1="49.2" y1="16.47" x2="52.5" y2="16.47" stroke="#666" stroke-width="0.9" />
<text x="42.3" y="272.3" font-size="9.2" text-anchor="end" fill="#333">10<tspan font-size="6" dy="-4.5">26</tspan></text>
<text x="42.3" y="217.6" font-size="9.2" text-anchor="end" fill="#333">10<tspan font-size="6" dy="-4.5">27</tspan></text>
<text x="42.3" y="162.9" font-size="9.2" text-anchor="end" fill="#333">10<tspan font-size="6" dy="-4.5">28</tspan></text>
<text x="42.3" y="108.2" font-size="9.2" text-anchor="end" fill="#333">10<tspan font-size="6" dy="-4.5">29</tspan></text>
<text x="42.3" y="53.5" font-size="9.2" text-anchor="end" fill="#333">10<tspan font-size="6" dy="-4.5">30</tspan></text>
<line x1="52.04" y1="289.4" x2="52.04" y2="292.7" stroke="#666" stroke-width="0.9" />
<line x1="57.3" y1="289.4" x2="57.3" y2="294.9" stroke="#555" stroke-width="1" />
<line x1="91.93" y1="289.4" x2="91.93" y2="292.7" stroke="#666" stroke-width="0.9" />
<line x1="112.19" y1="289.4" x2="112.19" y2="292.7" stroke="#666" stroke-width="0.9" />
<line x1="126.57" y1="289.4" x2="126.57" y2="292.7" stroke="#666" stroke-width="0.9" />
<line x1="137.72" y1="289.4" x2="137.72" y2="292.7" stroke="#666" stroke-width="0.9" />
<line x1="146.83" y1="289.4" x2="146.83" y2="292.7" stroke="#666" stroke-width="0.9" />
<line x1="154.53" y1="289.4" x2="154.53" y2="292.7" stroke="#666" stroke-width="0.9" />
<line x1="161.2" y1="289.4" x2="161.2" y2="292.7" stroke="#666" stroke-width="0.9" />
<line x1="167.09" y1="289.4" x2="167.09" y2="292.7" stroke="#666" stroke-width="0.9" />
<line x1="172.35" y1="289.4" x2="172.35" y2="294.9" stroke="#555" stroke-width="1" />
<line x1="206.98" y1="289.4" x2="206.98" y2="292.7" stroke="#666" stroke-width="0.9" />
<line x1="227.24" y1="289.4" x2="227.24" y2="292.7" stroke="#666" stroke-width="0.9" />
<line x1="241.62" y1="289.4" x2="241.62" y2="292.7" stroke="#666" stroke-width="0.9" />
<line x1="252.77" y1="289.4" x2="252.77" y2="292.7" stroke="#666" stroke-width="0.9" />
<line x1="261.88" y1="289.4" x2="261.88" y2="292.7" stroke="#666" stroke-width="0.9" />
<line x1="269.58" y1="289.4" x2="269.58" y2="292.7" stroke="#666" stroke-width="0.9" />
<line x1="276.25" y1="289.4" x2="276.25" y2="292.7" stroke="#666" stroke-width="0.9" />
<line x1="282.14" y1="289.4" x2="282.14" y2="292.7" stroke="#666" stroke-width="0.9" />
<line x1="287.4" y1="289.4" x2="287.4" y2="294.9" stroke="#555" stroke-width="1" />
<line x1="322.03" y1="289.4" x2="322.03" y2="292.7" stroke="#666" stroke-width="0.9" />
<text x="61.7" y="308.6" font-size="9" text-anchor="end" fill="#333">10<tspan font-size="6.3" dy="-4.3">2</tspan></text>
<text x="176.75" y="308.6" font-size="9" text-anchor="end" fill="#333">10<tspan font-size="6.3" dy="-4.3">3</tspan></text>
<text x="291.8" y="308.6" font-size="9" text-anchor="end" fill="#333">10<tspan font-size="6.3" dy="-4.3">4</tspan></text>
<text x="193" y="325.5" font-size="10" text-anchor="middle" fill="#222"><tspan font-style="italic">ν</tspan> (GHz)</text>
<text transform="translate(13.3,152.9) rotate(-90)" font-size="10.4" textLength="109" lengthAdjust="spacing" text-anchor="middle" fill="#222"><tspan font-style="italic">ε</tspan><tspan font-size="7" dy="2" font-style="italic">ν</tspan><tspan dy="-2" font-style="italic">b</tspan> (erg s<tspan font-size="6.5" dy="-3.5">−1</tspan><tspan dy="3.5"> Hz</tspan><tspan font-size="6.5" dy="-3.5">−1</tspan><tspan dy="3.5"> Mpc</tspan><tspan font-size="6.5" dy="-3.5">−3</tspan><tspan dy="3.5">)</tspan></text>
<text x="49.3" y="13" font-size="10.3" text-anchor="start" fill="#222" >CO</text>
<text x="65" y="13.8" font-size="7.1" text-anchor="start" fill="#222" ><tspan font-style="italic">J</tspan> = 1</text>
<text x="98.4" y="14" font-size="8.4" text-anchor="middle" fill="#222" >2</text>
<text x="118.8" y="14" font-size="8.4" text-anchor="middle" fill="#222" >3</text>
<text x="133.1" y="14" font-size="8.4" text-anchor="middle" fill="#222" >4</text>
<text x="144.2" y="14" font-size="8.4" text-anchor="middle" fill="#222" >5</text>
<text x="152.9" y="14" font-size="8.4" text-anchor="middle" fill="#222" >6</text>
<text x="161.2" y="14" font-size="8.4" text-anchor="middle" fill="#222" >7</text>
<text x="167.5" y="14" font-size="8.4" text-anchor="middle" fill="#222" >8</text>
<text x="173.4" y="14" font-size="8.4" text-anchor="middle" fill="#222" >9</text>
<text x="193.6" y="12.6" font-size="10.8" fill="#222">[C <tspan font-size="7.4" fill="#666" font-weight="bold" letter-spacing="0.6">II</tspan>]</text>
<text transform="translate(61.4,36.8) rotate(90)" font-size="10.5" fill="#222">Broadband <tspan font-style="italic">R</tspan> = 3.5</text>
<text x="1.6" y="11.6" font-size="16.5" font-weight="bold" fill="#000">a</text>
<g clip-path="url(#clipB)">
<path d="M404.3,82.6 C407.3,80.92 416.23,75.33 422.3,72.5 C428.37,69.67 434.58,67.43 440.7,65.6 C446.82,63.77 451.78,62.63 459,61.5 C466.22,60.37 475.5,59.72 484,58.8 C492.5,57.88 500.67,56.63 510,56 C519.33,55.37 531.67,54.73 540,55 C548.33,55.27 548.33,56.52 560,57.6 C571.67,58.68 595,60.02 610,61.5 C625,62.98 637.5,64.78 650,66.5 C662.5,68.22 679.17,70.92 685,71.8 L685,86.5 C679.17,85.17 662.5,81.08 650,78.5 C637.5,75.92 621.67,73 610,71 C598.33,69 588.33,67.58 580,66.5 C571.67,65.42 566.67,65 560,64.5 C553.33,64 548.33,63.45 540,63.5 C531.67,63.55 519.33,63.3 510,64.8 C500.67,66.3 491.57,69.98 484,72.5 C476.43,75.02 470.28,77.15 464.6,79.9 C458.92,82.65 454.13,85.78 449.9,89 C445.67,92.22 442.02,95.72 439.2,99.2 C436.38,102.68 434.78,105.83 433,109.9 C431.22,113.97 429.63,118.58 428.5,123.6 C427.37,128.62 426.67,133.93 426.2,140 C425.73,146.07 425.78,133.33 425.7,160 C425.62,186.67 425.7,276.67 425.7,300 L404.3,300 Z" fill="#f5cad4"/>
<path d="M404.3,126 C406.8,124.33 414.25,119.45 419.3,116 C424.35,112.55 429.5,107.98 434.6,105.3 C439.7,102.62 444.5,102.03 449.9,99.9 C455.3,97.77 460.32,94.65 467,92.5 C473.68,90.35 482.62,88.23 490,87 C497.38,85.77 502.97,85.53 511.3,85.1 C519.63,84.67 531.88,84.43 540,84.4 C548.12,84.37 548.33,83.92 560,84.9 C571.67,85.88 594.17,88.52 610,90.3 C625.83,92.08 642.5,94.32 655,95.6 C667.5,96.88 680,97.6 685,98 L685,118.7 C680.83,117.92 672.5,116.57 660,114 C647.5,111.43 626.67,106.75 610,103.3 C593.33,99.85 571.67,95.32 560,93.3 C548.33,91.28 548.12,91.65 540,91.2 C531.88,90.75 519.63,90.3 511.3,90.6 C502.97,90.9 497.38,91.35 490,93 C482.62,94.65 473.68,97.82 467,100.5 C460.32,103.18 455.3,106.13 449.9,109.1 C444.5,112.07 439.7,114.82 434.6,118.3 C429.5,121.78 424.35,125.72 419.3,130 C414.25,134.28 406.8,141.67 404.3,144 Z" fill="#bdbdbd" fill-opacity="0.75"/>
<path d="M404.3,180 C406.92,178.42 414.05,173.5 420,170.5 C425.95,167.5 432.5,164.08 440,162 C447.5,159.92 456.67,159 465,158 C473.33,157 481.67,156.4 490,156 C498.33,155.6 506.67,155.45 515,155.6 C523.33,155.75 531.67,156.08 540,156.9 C548.33,157.72 556.67,158.98 565,160.5 C573.33,162.02 577.5,163.42 590,166 C602.5,168.58 624.17,172.67 640,176 C655.83,179.33 677.5,184.33 685,186" fill="none" stroke="#111" stroke-width="1.15" stroke-dasharray="3.6 2.2"/>
<path d="M404.3,156.5 C407.75,154.92 419.05,149.42 425,147 C430.95,144.58 432.5,143.53 440,142 C447.5,140.47 457.5,139.52 470,137.8 C482.5,136.08 503.33,132.7 515,131.7 C526.67,130.7 532.5,131.35 540,131.8 C547.5,132.25 551.67,133.13 560,134.4 C568.33,135.67 576.67,136.88 590,139.4 C603.33,141.92 624.17,146.07 640,149.5 C655.83,152.93 677.5,158.25 685,160" fill="none" stroke="#111" stroke-width="1.15" stroke-dasharray="3.6 2.2"/>
<path d="M404.3,152 C407.75,150 419.05,143.17 425,140 C430.95,136.83 432.5,135.08 440,133 C447.5,130.92 457.5,129.1 470,127.5 C482.5,125.9 503.33,123.82 515,123.4 C526.67,122.98 532.5,124.2 540,125 C547.5,125.8 551.67,127.12 560,128.2 C568.33,129.28 576.67,129.78 590,131.5 C603.33,133.22 624.17,136.08 640,138.5 C655.83,140.92 677.5,144.75 685,146" fill="none" stroke="#111" stroke-width="1.15" stroke-dasharray="3.6 2.2"/>
<path d="M404.3,154 C407.75,151.08 419.05,140.58 425,136.5 C430.95,132.42 432.5,132.15 440,129.5 C447.5,126.85 457.5,122.53 470,120.6 C482.5,118.67 500,117.9 515,117.9 C530,117.9 547.5,119.37 560,120.6 C572.5,121.83 576.67,123.15 590,125.3 C603.33,127.45 624.17,130.93 640,133.5 C655.83,136.07 677.5,139.5 685,140.7" fill="none" stroke="#111" stroke-width="1.15" stroke-dasharray="3.6 2.2"/>
<path d="M404.3,158 C407.75,154.33 419.05,141.28 425,136 C430.95,130.72 432.5,129.55 440,126.3 C447.5,123.05 457.5,118.58 470,116.5 C482.5,114.42 500,114.03 515,113.8 C530,113.57 547.5,113.73 560,115.1 C572.5,116.47 576.67,119.52 590,122 C603.33,124.48 624.17,127.47 640,130 C655.83,132.53 677.5,136 685,137.2" fill="none" stroke="#111" stroke-width="1.15" stroke-dasharray="3.6 2.2"/>
<path d="M404.3,199 C404.65,196.67 405.28,189.17 406.4,185 C407.52,180.83 409.07,178.17 411,174 C412.93,169.83 414.83,165.17 418,160 C421.17,154.83 426.33,147.18 430,143 C433.67,138.82 433.33,139.08 440,134.9 C446.67,130.72 457.5,121.88 470,117.9 C482.5,113.92 500,111.68 515,111 C530,110.32 547.5,112.52 560,113.8 C572.5,115.08 576.67,116.58 590,118.7 C603.33,120.82 624.17,124.12 640,126.5 C655.83,128.88 677.5,131.92 685,133" fill="none" stroke="#111" stroke-width="1.15" stroke-dasharray="3.6 2.2"/>
<path d="M404.3,217.8 C405.02,213.17 407.15,196.13 408.6,190 C410.05,183.87 411.1,184.33 413,181 C414.9,177.67 417.17,173.83 420,170 C422.83,166.17 425.67,161.87 430,158 C434.33,154.13 439.33,152.68 446,146.8 C452.67,140.92 458.5,128.85 470,122.7 C481.5,116.55 500,111.73 515,109.9 C530,108.07 547.5,110.68 560,111.7 C572.5,112.72 576.67,114.03 590,116 C603.33,117.97 624.17,121.22 640,123.5 C655.83,125.78 677.5,128.67 685,129.7" fill="none" stroke="#111" stroke-width="1.15" stroke-dasharray="3.6 2.2"/>
<path d="M404.3,234 C405.42,229.5 409.05,214 411,207 C412.95,200 414.5,195.67 416,192 C417.5,188.33 418.17,187.83 420,185 C421.83,182.17 423.67,179 427,175 C430.33,171 434.93,165.4 440,161 C445.07,156.6 450.73,153.77 457.4,148.6 C464.07,143.43 470.4,136.62 480,130 C489.6,123.38 501.67,112.18 515,108.9 C528.33,105.62 547.5,109.48 560,110.3 C572.5,111.12 576.67,112.02 590,113.8 C603.33,115.58 624.17,118.72 640,121 C655.83,123.28 677.5,126.42 685,127.5" fill="none" stroke="#111" stroke-width="1.15" stroke-dasharray="3.6 2.2"/>
<path d="M405.5,245 C406.02,241.9 406.85,233.07 408.6,226.4 C410.35,219.73 413.5,211.07 416,205 C418.5,198.93 421.12,194.17 423.6,190 C426.08,185.83 427.33,184 430.9,180 C434.47,176 438.75,170.92 445,166 C451.25,161.08 460.9,155 468.4,150.5 C475.9,146 482.23,143.08 490,139 C497.77,134.92 506.67,129.75 515,126 C523.33,122.25 532.5,118.75 540,116.5 C547.5,114.25 551.67,113.17 560,112.5 C568.33,111.83 576.67,111.5 590,112.5 C603.33,113.5 624.17,116.45 640,118.5 C655.83,120.55 677.5,123.75 685,124.8" fill="none" stroke="#111" stroke-width="1.15" stroke-dasharray="3.6 2.2"/>
<path d="M404.3,135.1 C406.8,133.32 414.25,128.1 419.3,124.4 C424.35,120.7 429.5,116.08 434.6,112.9 C439.7,109.72 444.5,107.95 449.9,105.3 C455.3,102.65 461.35,99.22 467,97 C472.65,94.78 478.72,93.28 483.8,92 C488.88,90.72 492.92,90.1 497.5,89.3 C502.08,88.5 506.72,87.62 511.3,87.2 C515.88,86.78 520.42,86.87 525,86.8 C529.58,86.73 532.97,86.47 538.8,86.8 C544.63,87.13 552.3,88 560,88.8 C567.7,89.6 576.67,90.58 585,91.6 C593.33,92.62 601.67,93.78 610,94.9 C618.33,96.02 626.67,97.15 635,98.3 C643.33,99.45 651.67,100.65 660,101.8 C668.33,102.95 680.83,104.63 685,105.2" fill="none" stroke="#000" stroke-width="2.6"/>
<path d="M404.3,97 C407.3,94.88 416.23,88 422.3,84.3 C428.37,80.6 434.58,77.43 440.7,74.8 C446.82,72.17 451.78,70.4 459,68.5 C466.22,66.6 477.17,64.72 484,63.4 C490.83,62.08 494,61.33 500,60.6 C506,59.87 513.83,59.33 520,59 C526.17,58.67 530.33,58.3 537,58.6 C543.67,58.9 552,60.07 560,60.8 C568,61.53 576.85,62.18 585,63 C593.15,63.82 600.57,64.65 608.9,65.7 C617.23,66.75 626.85,68.08 635,69.3 C643.15,70.52 649.47,71.68 657.8,73 C666.13,74.32 680.47,76.5 685,77.2" fill="none" stroke="#dc1e4a" stroke-width="2.6"/>
<path d="M404.3,273.7 C408.58,273.25 420.72,271.85 430,271 C439.28,270.15 448.33,269.38 460,268.6 C471.67,267.82 486,267.02 500,266.3 C514,265.58 531.5,264.82 544,264.3 C556.5,263.78 564,263.58 575,263.2 C586,262.82 597.5,262.38 610,262 C622.5,261.62 637.5,261.23 650,260.9 C662.5,260.57 679.17,260.15 685,260" fill="none" stroke="#62a83a" stroke-width="3" stroke-dasharray="9.6 4"/>
<line x1="451.3" y1="62.4" x2="451.3" y2="291.4" stroke="#f3b0c0" stroke-width="1" />
<line x1="446.5" y1="62.4" x2="456.1" y2="62.4" stroke="#f3b0c0" stroke-width="1" />
<line x1="586.4" y1="64.5" x2="586.4" y2="291.4" stroke="#dc1e4a" stroke-width="1.2" />
<line x1="640.7" y1="88.9" x2="640.7" y2="291.4" stroke="#000" stroke-width="1.2" />
<line x1="415" y1="113.7" x2="415" y2="139.2" stroke="#000" stroke-width="1.1" />
<line x1="410" y1="113.7" x2="420" y2="113.7" stroke="#000" stroke-width="1.1" />
<line x1="410" y1="139.2" x2="420" y2="139.2" stroke="#000" stroke-width="1.1" />
<line x1="431.5" y1="109.1" x2="431.5" y2="121.3" stroke="#000" stroke-width="1.1" />
<line x1="426.5" y1="109.1" x2="436.5" y2="109.1" stroke="#000" stroke-width="1.1" />
<line x1="426.5" y1="121.3" x2="436.5" y2="121.3" stroke="#000" stroke-width="1.1" />
<line x1="451.7" y1="96.4" x2="451.7" y2="106" stroke="#000" stroke-width="1.1" />
<line x1="446.7" y1="96.4" x2="456.7" y2="96.4" stroke="#000" stroke-width="1.1" />
<line x1="446.7" y1="106" x2="456.7" y2="106" stroke="#000" stroke-width="1.1" />
<line x1="475.8" y1="90.4" x2="475.8" y2="116.3" stroke="#000" stroke-width="1.1" />
<line x1="470.8" y1="90.4" x2="480.8" y2="90.4" stroke="#000" stroke-width="1.1" />
<line x1="505.8" y1="80.7" x2="505.8" y2="84.4" stroke="#000" stroke-width="1.1" />
<line x1="500.8" y1="80.7" x2="510.8" y2="80.7" stroke="#000" stroke-width="1.1" />
<line x1="541.8" y1="89.3" x2="541.8" y2="123.7" stroke="#000" stroke-width="1.1" />
<line x1="536.8" y1="89.3" x2="546.8" y2="89.3" stroke="#000" stroke-width="1.1" />
<line x1="536.8" y1="123.7" x2="546.8" y2="123.7" stroke="#000" stroke-width="1.1" />
<line x1="586.4" y1="80.4" x2="586.4" y2="86.5" stroke="#000" stroke-width="1.1" />
<line x1="581.4" y1="86.5" x2="591.4" y2="86.5" stroke="#000" stroke-width="1.1" />
<line x1="640.7" y1="88.9" x2="640.7" y2="291.4" stroke="#000" stroke-width="1.1" />
<line x1="635.7" y1="88.9" x2="645.7" y2="88.9" stroke="#000" stroke-width="1.1" />
<line x1="476.5" y1="50.6" x2="476.5" y2="57" stroke="#dc1e4a" stroke-width="1.1" />
<line x1="471.5" y1="50.6" x2="481.5" y2="50.6" stroke="#dc1e4a" stroke-width="1.1" />
<line x1="471.5" y1="57" x2="481.5" y2="57" stroke="#dc1e4a" stroke-width="1.1" />
<line x1="505.8" y1="50.5" x2="505.8" y2="80.7" stroke="#dc1e4a" stroke-width="1.1" />
<line x1="500.8" y1="50.5" x2="510.8" y2="50.5" stroke="#dc1e4a" stroke-width="1.1" />
<line x1="500.8" y1="80.7" x2="510.8" y2="80.7" stroke="#dc1e4a" stroke-width="1.1" />
<line x1="541.8" y1="49.3" x2="541.8" y2="55.7" stroke="#dc1e4a" stroke-width="1.1" />
<line x1="536.8" y1="49.3" x2="546.8" y2="49.3" stroke="#dc1e4a" stroke-width="1.1" />
<line x1="536.8" y1="55.7" x2="546.8" y2="55.7" stroke="#dc1e4a" stroke-width="1.1" />
<line x1="640.7" y1="55.1" x2="640.7" y2="67.4" stroke="#dc1e4a" stroke-width="1.1" />
<line x1="635.7" y1="55.1" x2="645.7" y2="55.1" stroke="#dc1e4a" stroke-width="1.1" />
<line x1="635.7" y1="67.4" x2="645.7" y2="67.4" stroke="#dc1e4a" stroke-width="1.1" />
<line x1="581.4" y1="73.5" x2="591.4" y2="73.5" stroke="#dc1e4a" stroke-width="1.1" />
<circle cx="451.3" cy="68.9" r="3.6" fill="#f5bfcc" stroke="#ee9bb0" stroke-width="0.8"/>
<circle cx="476.5" cy="53.8" r="3.8" fill="#dc1e4a" stroke="#fff" stroke-width="0.9"/>
<circle cx="505.8" cy="58.7" r="3.8" fill="#dc1e4a" stroke="#fff" stroke-width="0.9"/>
<circle cx="541.8" cy="52.5" r="3.8" fill="#dc1e4a" stroke="#fff" stroke-width="0.9"/>
<circle cx="640.7" cy="58.3" r="3.8" fill="#dc1e4a" stroke="#fff" stroke-width="0.9"/>
<circle cx="586.4" cy="76.2" r="3.8" fill="#dc1e4a" stroke="#fff" stroke-width="0.9"/>
<circle cx="415" cy="120.6" r="3.9" fill="#000" stroke="#fff" stroke-width="0.9"/>
<circle cx="431.5" cy="113.7" r="3.9" fill="#000" stroke="#fff" stroke-width="0.9"/>
<circle cx="451.7" cy="100.4" r="3.9" fill="#000" stroke="#fff" stroke-width="0.9"/>
<circle cx="475.8" cy="98.2" r="3.9" fill="#000" stroke="#fff" stroke-width="0.9"/>
<circle cx="505.8" cy="84.4" r="3.9" fill="#000" stroke="#fff" stroke-width="0.9"/>
<circle cx="541.8" cy="95.5" r="3.9" fill="#000" stroke="#fff" stroke-width="0.9"/>
<circle cx="586.4" cy="80.4" r="3.9" fill="#000" stroke="#fff" stroke-width="0.9"/>
<circle cx="640.7" cy="109" r="3.9" fill="#000" stroke="#fff" stroke-width="0.9"/>
<line x1="469.5" y1="40.7" x2="469.5" y2="63.3" stroke="#000" stroke-width="1.1" />
<line x1="466.3" y1="40.7" x2="472.7" y2="40.7" stroke="#000" stroke-width="1.1" />
<line x1="466.3" y1="63.3" x2="472.7" y2="63.3" stroke="#000" stroke-width="1.1" />
<rect x="466.3" y="53.2" width="6.4" height="6.4" fill="#fbc52c" stroke="#000" stroke-width="0.9"/>
<path d="M420.3,73.7 L428.1,73.7 L424.2,80.7 Z" fill="#fbc52c" stroke="#000" stroke-width="0.9" stroke-linejoin="round"/>
<path d="M566.4,53.7 L574.2,53.7 L570.3,60.7 Z" fill="#fbc52c" stroke="#000" stroke-width="0.9" stroke-linejoin="round"/>
</g>
<rect x="661" y="139.3" width="17" height="9.5" fill="#fff"/>
<text x="669.5" y="146.8" font-size="8.5" text-anchor="middle" fill="#333" >3–2</text>
<rect x="661" y="153.1" width="17" height="9.5" fill="#fff"/>
<text x="669.5" y="160.6" font-size="8.5" text-anchor="middle" fill="#333" >2–1</text>
<rect x="661" y="179.8" width="17" height="9.5" fill="#fff"/>
<text x="669.5" y="187.3" font-size="8.5" text-anchor="middle" fill="#333" >1–0</text>
<g transform="translate(445.5,146.8) rotate(-52)"><rect x="-7.5" y="-4" width="15" height="8" fill="#fff" fill-opacity="0.85"/><text x="0" y="3" font-size="8" text-anchor="middle" fill="#333">7–6</text></g>
<g transform="translate(457.4,148.6) rotate(-52)"><rect x="-7.5" y="-4" width="15" height="8" fill="#fff" fill-opacity="0.85"/><text x="0" y="3" font-size="8" text-anchor="middle" fill="#333">8–7</text></g>
<g transform="translate(468.4,150.5) rotate(-52)"><rect x="-7.5" y="-4" width="15" height="8" fill="#fff" fill-opacity="0.85"/><text x="0" y="3" font-size="8" text-anchor="middle" fill="#333">9–8</text></g>
<rect x="419.5" y="210.7" width="259.4" height="25.8" rx="3" fill="#fff" fill-opacity="0.9" stroke="#c4c4c4" stroke-width="0.9"/>
<line x1="425.1" y1="223" x2="434.9" y2="223" stroke="#dc1e4a" stroke-width="2.2" />
<line x1="444.8" y1="217.4" x2="444.8" y2="228.7" stroke="#dc1e4a" stroke-width="1.1" />
<line x1="440.2" y1="217.4" x2="449.4" y2="217.4" stroke="#dc1e4a" stroke-width="1.1" />
<line x1="440.2" y1="228.7" x2="449.4" y2="228.7" stroke="#dc1e4a" stroke-width="1.1" />
<circle cx="444.8" cy="223" r="3.6" fill="#dc1e4a" />
<text x="452.4" y="226.8" font-size="10.5" fill="#222">[C <tspan font-size="7.4" fill="#666" font-weight="bold" letter-spacing="0.6">II</tspan>]</text>
<line x1="491.7" y1="223" x2="501.8" y2="223" stroke="#000" stroke-width="2.2" />
<line x1="510.8" y1="217.4" x2="510.8" y2="228.7" stroke="#000" stroke-width="1.1" />
<line x1="506.2" y1="217.4" x2="515.4" y2="217.4" stroke="#000" stroke-width="1.1" />
<line x1="506.2" y1="228.7" x2="515.4" y2="228.7" stroke="#000" stroke-width="1.1" />
<circle cx="510.8" cy="223" r="3.6" fill="#000" />
<text x="519.3" y="226.8" font-size="10.5" text-anchor="start" fill="#222" >CO</text>
<line x1="553.2" y1="217.5" x2="553.2" y2="228.2" stroke="#000" stroke-width="1.1" />
<line x1="549.9" y1="217.5" x2="556.5" y2="217.5" stroke="#000" stroke-width="1.1" />
<line x1="549.9" y1="228.2" x2="556.5" y2="228.2" stroke="#000" stroke-width="1.1" />
<rect x="550.4" y="219.7" width="5.6" height="5.6" fill="#fbc52c" stroke="#000" stroke-width="0.9"/>
<path d="M563.7,218.9 L571.5,218.9 L567.6,225.9 Z" fill="#fbc52c" stroke="#000" stroke-width="0.9" stroke-linejoin="round"/>
<text x="576.6" y="226.8" font-size="10.5" fill="#222">Lyα</text>
<line x1="610.4" y1="222.5" x2="633" y2="222.5" stroke="#62a83a" stroke-width="3" stroke-dasharray="9.6 4"/>
<text x="637.7" y="226.8" font-size="10.5" text-anchor="start" fill="#222" >21 cm</text>
<line x1="404.4" y1="16.7" x2="684.4" y2="16.7" stroke="#aaa" stroke-width="1" />
<line x1="684.4" y1="16.7" x2="684.4" y2="289.4" stroke="#aaa" stroke-width="1" />
<line x1="404.4" y1="16.2" x2="404.4" y2="289.9" stroke="#4a4a4a" stroke-width="1" />
<line x1="403.9" y1="289.4" x2="684.4" y2="289.4" stroke="#8a8a8a" stroke-width="1.2" />
<line x1="398.9" y1="289.48" x2="404.4" y2="289.48" stroke="#555" stroke-width="1" />
<line x1="401.1" y1="280.04" x2="404.4" y2="280.04" stroke="#666" stroke-width="0.9" />
<line x1="401.1" y1="274.52" x2="404.4" y2="274.52" stroke="#666" stroke-width="0.9" />
<line x1="401.1" y1="270.6" x2="404.4" y2="270.6" stroke="#666" stroke-width="0.9" />
<line x1="401.1" y1="267.56" x2="404.4" y2="267.56" stroke="#666" stroke-width="0.9" />
<line x1="401.1" y1="265.08" x2="404.4" y2="265.08" stroke="#666" stroke-width="0.9" />
<line x1="401.1" y1="262.98" x2="404.4" y2="262.98" stroke="#666" stroke-width="0.9" />
<line x1="401.1" y1="261.16" x2="404.4" y2="261.16" stroke="#666" stroke-width="0.9" />
<line x1="401.1" y1="259.55" x2="404.4" y2="259.55" stroke="#666" stroke-width="0.9" />
<line x1="398.9" y1="258.12" x2="404.4" y2="258.12" stroke="#555" stroke-width="1" />
<line x1="401.1" y1="248.68" x2="404.4" y2="248.68" stroke="#666" stroke-width="0.9" />
<line x1="401.1" y1="243.16" x2="404.4" y2="243.16" stroke="#666" stroke-width="0.9" />
<line x1="401.1" y1="239.24" x2="404.4" y2="239.24" stroke="#666" stroke-width="0.9" />
<line x1="401.1" y1="236.2" x2="404.4" y2="236.2" stroke="#666" stroke-width="0.9" />
<line x1="401.1" y1="233.72" x2="404.4" y2="233.72" stroke="#666" stroke-width="0.9" />
<line x1="401.1" y1="231.62" x2="404.4" y2="231.62" stroke="#666" stroke-width="0.9" />
<line x1="401.1" y1="229.8" x2="404.4" y2="229.8" stroke="#666" stroke-width="0.9" />
<line x1="401.1" y1="228.19" x2="404.4" y2="228.19" stroke="#666" stroke-width="0.9" />
<line x1="398.9" y1="226.76" x2="404.4" y2="226.76" stroke="#555" stroke-width="1" />
<line x1="401.1" y1="217.32" x2="404.4" y2="217.32" stroke="#666" stroke-width="0.9" />
<line x1="401.1" y1="211.8" x2="404.4" y2="211.8" stroke="#666" stroke-width="0.9" />
<line x1="401.1" y1="207.88" x2="404.4" y2="207.88" stroke="#666" stroke-width="0.9" />
<line x1="401.1" y1="204.84" x2="404.4" y2="204.84" stroke="#666" stroke-width="0.9" />
<line x1="401.1" y1="202.36" x2="404.4" y2="202.36" stroke="#666" stroke-width="0.9" />
<line x1="401.1" y1="200.26" x2="404.4" y2="200.26" stroke="#666" stroke-width="0.9" />
<line x1="401.1" y1="198.44" x2="404.4" y2="198.44" stroke="#666" stroke-width="0.9" />
<line x1="401.1" y1="196.83" x2="404.4" y2="196.83" stroke="#666" stroke-width="0.9" />
<line x1="398.9" y1="195.4" x2="404.4" y2="195.4" stroke="#555" stroke-width="1" />
<line x1="401.1" y1="185.96" x2="404.4" y2="185.96" stroke="#666" stroke-width="0.9" />
<line x1="401.1" y1="180.44" x2="404.4" y2="180.44" stroke="#666" stroke-width="0.9" />
<line x1="401.1" y1="176.52" x2="404.4" y2="176.52" stroke="#666" stroke-width="0.9" />
<line x1="401.1" y1="173.48" x2="404.4" y2="173.48" stroke="#666" stroke-width="0.9" />
<line x1="401.1" y1="171" x2="404.4" y2="171" stroke="#666" stroke-width="0.9" />
<line x1="401.1" y1="168.9" x2="404.4" y2="168.9" stroke="#666" stroke-width="0.9" />
<line x1="401.1" y1="167.08" x2="404.4" y2="167.08" stroke="#666" stroke-width="0.9" />
<line x1="401.1" y1="165.47" x2="404.4" y2="165.47" stroke="#666" stroke-width="0.9" />
<line x1="398.9" y1="164.04" x2="404.4" y2="164.04" stroke="#555" stroke-width="1" />
<line x1="401.1" y1="154.6" x2="404.4" y2="154.6" stroke="#666" stroke-width="0.9" />
<line x1="401.1" y1="149.08" x2="404.4" y2="149.08" stroke="#666" stroke-width="0.9" />
<line x1="401.1" y1="145.16" x2="404.4" y2="145.16" stroke="#666" stroke-width="0.9" />
<line x1="401.1" y1="142.12" x2="404.4" y2="142.12" stroke="#666" stroke-width="0.9" />
<line x1="401.1" y1="139.64" x2="404.4" y2="139.64" stroke="#666" stroke-width="0.9" />
<line x1="401.1" y1="137.54" x2="404.4" y2="137.54" stroke="#666" stroke-width="0.9" />
<line x1="401.1" y1="135.72" x2="404.4" y2="135.72" stroke="#666" stroke-width="0.9" />
<line x1="401.1" y1="134.11" x2="404.4" y2="134.11" stroke="#666" stroke-width="0.9" />
<line x1="398.9" y1="132.68" x2="404.4" y2="132.68" stroke="#555" stroke-width="1" />
<line x1="401.1" y1="123.24" x2="404.4" y2="123.24" stroke="#666" stroke-width="0.9" />
<line x1="401.1" y1="117.72" x2="404.4" y2="117.72" stroke="#666" stroke-width="0.9" />
<line x1="401.1" y1="113.8" x2="404.4" y2="113.8" stroke="#666" stroke-width="0.9" />
<line x1="401.1" y1="110.76" x2="404.4" y2="110.76" stroke="#666" stroke-width="0.9" />
<line x1="401.1" y1="108.28" x2="404.4" y2="108.28" stroke="#666" stroke-width="0.9" />
<line x1="401.1" y1="106.18" x2="404.4" y2="106.18" stroke="#666" stroke-width="0.9" />
<line x1="401.1" y1="104.36" x2="404.4" y2="104.36" stroke="#666" stroke-width="0.9" />
<line x1="401.1" y1="102.75" x2="404.4" y2="102.75" stroke="#666" stroke-width="0.9" />
<line x1="398.9" y1="101.32" x2="404.4" y2="101.32" stroke="#555" stroke-width="1" />
<line x1="401.1" y1="91.88" x2="404.4" y2="91.88" stroke="#666" stroke-width="0.9" />
<line x1="401.1" y1="86.36" x2="404.4" y2="86.36" stroke="#666" stroke-width="0.9" />
<line x1="401.1" y1="82.44" x2="404.4" y2="82.44" stroke="#666" stroke-width="0.9" />
<line x1="401.1" y1="79.4" x2="404.4" y2="79.4" stroke="#666" stroke-width="0.9" />
<line x1="401.1" y1="76.92" x2="404.4" y2="76.92" stroke="#666" stroke-width="0.9" />
<line x1="401.1" y1="74.82" x2="404.4" y2="74.82" stroke="#666" stroke-width="0.9" />
<line x1="401.1" y1="73" x2="404.4" y2="73" stroke="#666" stroke-width="0.9" />
<line x1="401.1" y1="71.39" x2="404.4" y2="71.39" stroke="#666" stroke-width="0.9" />
<line x1="398.9" y1="69.96" x2="404.4" y2="69.96" stroke="#555" stroke-width="1" />
<line x1="401.1" y1="60.52" x2="404.4" y2="60.52" stroke="#666" stroke-width="0.9" />
<line x1="401.1" y1="55" x2="404.4" y2="55" stroke="#666" stroke-width="0.9" />
<line x1="401.1" y1="51.08" x2="404.4" y2="51.08" stroke="#666" stroke-width="0.9" />
<line x1="401.1" y1="48.04" x2="404.4" y2="48.04" stroke="#666" stroke-width="0.9" />
<line x1="401.1" y1="45.56" x2="404.4" y2="45.56" stroke="#666" stroke-width="0.9" />
<line x1="401.1" y1="43.46" x2="404.4" y2="43.46" stroke="#666" stroke-width="0.9" />
<line x1="401.1" y1="41.64" x2="404.4" y2="41.64" stroke="#666" stroke-width="0.9" />
<line x1="401.1" y1="40.03" x2="404.4" y2="40.03" stroke="#666" stroke-width="0.9" />
<line x1="398.9" y1="38.6" x2="404.4" y2="38.6" stroke="#555" stroke-width="1" />
<line x1="401.1" y1="29.16" x2="404.4" y2="29.16" stroke="#666" stroke-width="0.9" />
<line x1="401.1" y1="23.64" x2="404.4" y2="23.64" stroke="#666" stroke-width="0.9" />
<line x1="401.1" y1="19.72" x2="404.4" y2="19.72" stroke="#666" stroke-width="0.9" />
<line x1="401.1" y1="16.68" x2="404.4" y2="16.68" stroke="#666" stroke-width="0.9" />
<text x="394.6" y="293.08" font-size="9.2" text-anchor="end" fill="#333">10<tspan font-size="5.8" dy="-4.5">−1</tspan></text>
<text x="394.6" y="261.72" font-size="9.2" text-anchor="end" fill="#333">10<tspan font-size="5.8" dy="-4.5">0</tspan></text>
<text x="394.6" y="230.36" font-size="9.2" text-anchor="end" fill="#333">10<tspan font-size="5.8" dy="-4.5">1</tspan></text>
<text x="394.6" y="199" font-size="9.2" text-anchor="end" fill="#333">10<tspan font-size="5.8" dy="-4.5">2</tspan></text>
<text x="394.6" y="167.64" font-size="9.2" text-anchor="end" fill="#333">10<tspan font-size="5.8" dy="-4.5">3</tspan></text>
<text x="394.6" y="136.28" font-size="9.2" text-anchor="end" fill="#333">10<tspan font-size="5.8" dy="-4.5">4</tspan></text>
<text x="394.6" y="104.92" font-size="9.2" text-anchor="end" fill="#333">10<tspan font-size="5.8" dy="-4.5">5</tspan></text>
<text x="394.6" y="73.56" font-size="9.2" text-anchor="end" fill="#333">10<tspan font-size="5.8" dy="-4.5">6</tspan></text>
<text x="394.6" y="42.2" font-size="9.2" text-anchor="end" fill="#333">10<tspan font-size="5.8" dy="-4.5">7</tspan></text>
<line x1="404.3" y1="289.4" x2="404.3" y2="294.9" stroke="#555" stroke-width="1" />
<text x="404.3" y="306.6" font-size="9" text-anchor="middle" fill="#333" >0</text>
<line x1="469.65" y1="289.4" x2="469.65" y2="294.9" stroke="#555" stroke-width="1" />
<text x="469.65" y="306.6" font-size="9" text-anchor="middle" fill="#333" >1</text>
<line x1="535" y1="289.4" x2="535" y2="294.9" stroke="#555" stroke-width="1" />
<text x="535" y="306.6" font-size="9" text-anchor="middle" fill="#333" >2</text>
<line x1="600.35" y1="289.4" x2="600.35" y2="294.9" stroke="#555" stroke-width="1" />
<text x="600.35" y="306.6" font-size="9" text-anchor="middle" fill="#333" >3</text>
<line x1="665.7" y1="289.4" x2="665.7" y2="294.9" stroke="#555" stroke-width="1" />
<text x="665.7" y="306.6" font-size="9" text-anchor="middle" fill="#333" >4</text>
<text x="544.8" y="325.5" font-size="10" text-anchor="middle" fill="#222" font-style="italic">z</text>
<text transform="translate(364.3,153) rotate(-90)" font-size="10.6" textLength="137" lengthAdjust="spacing" text-anchor="middle" fill="#222">Line strength <tspan font-style="italic">ρ</tspan><tspan font-size="7" dy="2">line</tspan><tspan dy="-2"> (</tspan><tspan font-style="italic">L</tspan><tspan font-size="7" dy="2">⊙</tspan><tspan dy="-2"> Mpc</tspan><tspan font-size="6.5" dy="-3.5">−3</tspan><tspan dy="3.5">)</tspan></text>
<text x="354.2" y="11.2" font-size="16.5" font-weight="bold" fill="#000">b</text></svg></body></html>
